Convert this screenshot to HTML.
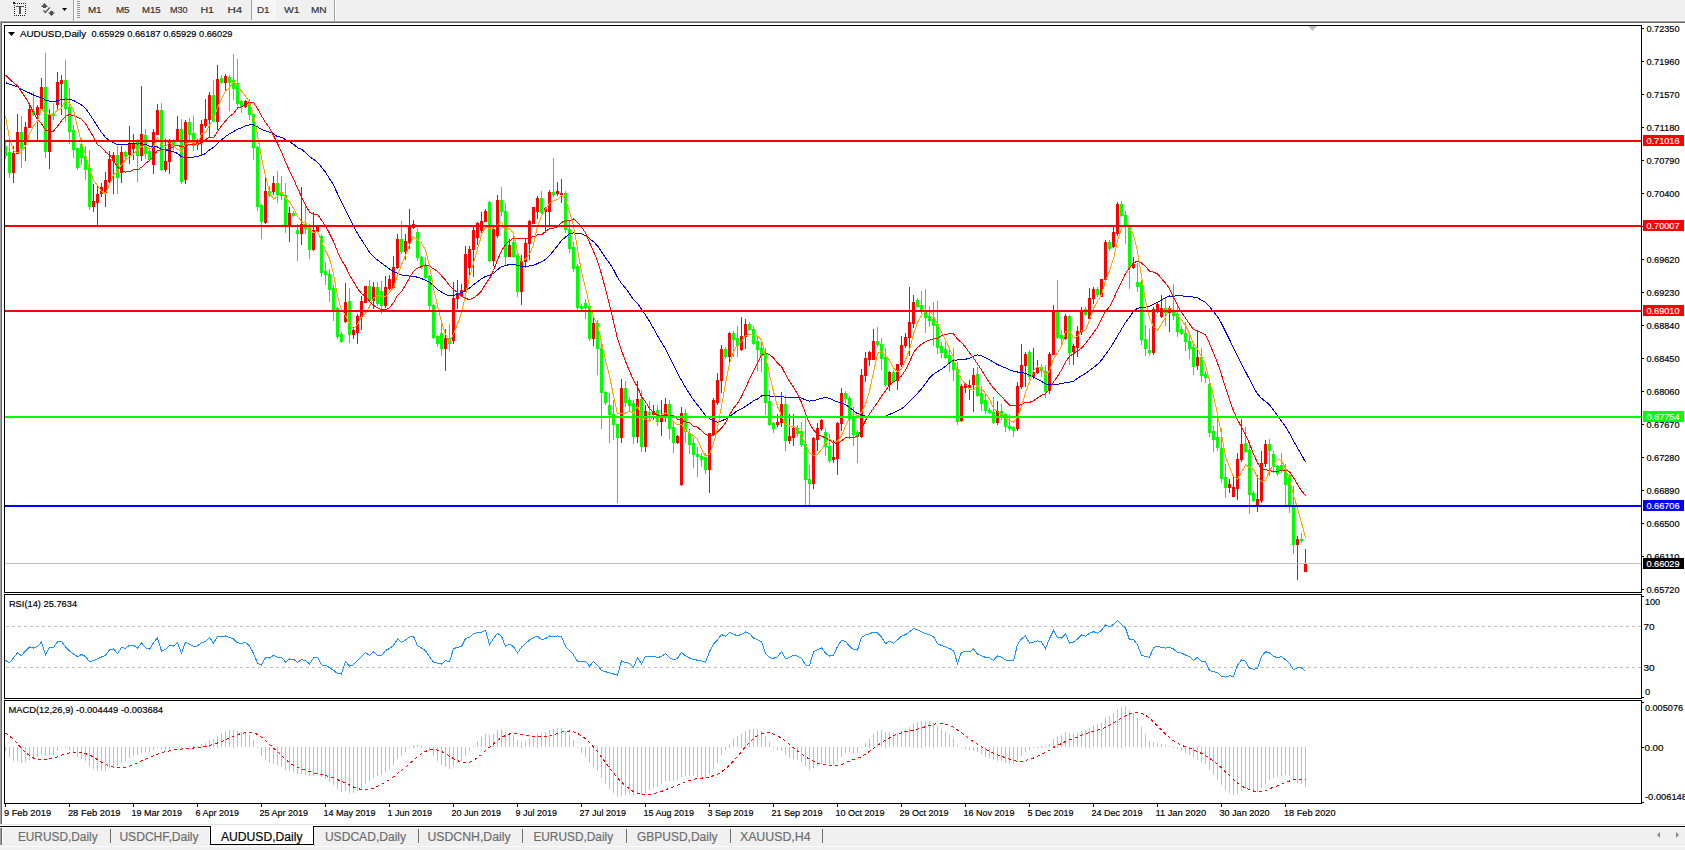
<!DOCTYPE html><html><head><meta charset="utf-8"><style>
html,body{margin:0;padding:0;}body{width:1685px;height:850px;overflow:hidden;background:#f0f0f0;position:relative;font-family:"Liberation Sans", sans-serif;}
svg{position:absolute;left:0;top:0;}
</style></head><body>
<svg width="1685" height="850" viewBox="0 0 1685 850" shape-rendering="crispEdges" font-family='"Liberation Sans", sans-serif'>
<rect x="0" y="0" width="1685" height="850" fill="#f0f0f0"/>
<rect x="0" y="21" width="1685" height="805" fill="#ffffff"/>
<rect x="0" y="20" width="1685" height="1" fill="#f8f8f8"/>
<rect x="0" y="21" width="1685" height="1" fill="#a0a0a0"/>
<rect x="0" y="22" width="1685" height="1" fill="#696969"/>
<rect x="0" y="21" width="1" height="803" fill="#a0a0a0"/>
<rect x="1" y="22" width="1" height="802" fill="#696969"/>
<rect x="17" y="3" width="1" height="1" fill="#222"/><rect x="19" y="3" width="1" height="1" fill="#222"/><rect x="21" y="3" width="1" height="1" fill="#222"/><rect x="23" y="3" width="1" height="1" fill="#222"/><rect x="25" y="3" width="1" height="1" fill="#222"/><rect x="14" y="5" width="1" height="1" fill="#222"/><rect x="14" y="7" width="1" height="1" fill="#222"/><rect x="14" y="9" width="1" height="1" fill="#222"/><rect x="14" y="11" width="1" height="1" fill="#222"/><rect x="14" y="13" width="1" height="1" fill="#222"/><rect x="14" y="15" width="1" height="1" fill="#222"/><rect x="16" y="15" width="1" height="1" fill="#222"/><rect x="18" y="15" width="1" height="1" fill="#222"/><rect x="20" y="15" width="1" height="1" fill="#222"/><rect x="22" y="15" width="1" height="1" fill="#222"/><rect x="24" y="15" width="1" height="1" fill="#222"/><rect x="25" y="5" width="1" height="1" fill="#222"/><rect x="25" y="7" width="1" height="1" fill="#222"/><rect x="25" y="9" width="1" height="1" fill="#222"/><rect x="25" y="11" width="1" height="1" fill="#222"/><rect x="25" y="13" width="1" height="1" fill="#222"/>
<rect x="13" y="2" width="2" height="2" fill="#222"/><rect x="15" y="3" width="1" height="1" fill="#555"/>
<rect x="16" y="6" width="8" height="1" fill="#505050"/><rect x="16" y="7" width="8" height="0.4" fill="#505050"/><rect x="19" y="7" width="2" height="7" fill="#505050"/>
<path d="M41 7 L44.5 3 L48 7 Z" fill="#505050" shape-rendering="auto"/><rect x="43" y="6.5" width="3" height="1.3" fill="#505050"/>
<path d="M48 12.4 L51.5 16 L55 12.4 Z" fill="#505050" shape-rendering="auto"/><rect x="50" y="11" width="3" height="1.6" fill="#505050"/>
<path d="M43.3 10.3 L45.4 12.5 L49.8 7.3" fill="none" stroke="#505050" stroke-width="1.2" shape-rendering="auto"/>
<path d="M62 8 L67 8 L64.5 11 Z" fill="#000" shape-rendering="auto"/>
<rect x="73" y="0" width="1" height="21" fill="#a0a0a0"/><rect x="74" y="0" width="1" height="20" fill="#ffffff"/>
<rect x="77" y="1" width="3" height="1" fill="#999"/>
<rect x="77" y="3" width="3" height="1" fill="#999"/>
<rect x="77" y="5" width="3" height="1" fill="#999"/>
<rect x="77" y="7" width="3" height="1" fill="#999"/>
<rect x="77" y="9" width="3" height="1" fill="#999"/>
<rect x="77" y="11" width="3" height="1" fill="#999"/>
<rect x="77" y="13" width="3" height="1" fill="#999"/>
<rect x="77" y="15" width="3" height="1" fill="#999"/>
<rect x="77" y="17" width="3" height="1" fill="#999"/>
<rect x="251" y="0" width="1" height="20" fill="#a0a0a0"/><rect x="252" y="0" width="24" height="20" fill="#f6f6f6"/>
<text x="87.90" y="13.00" font-size="9.5px" fill="#333" textLength="13.70" lengthAdjust="spacingAndGlyphs" stroke="#333" stroke-width="0.18">M1</text>
<text x="115.90" y="13.00" font-size="9.5px" fill="#333" textLength="13.70" lengthAdjust="spacingAndGlyphs" stroke="#333" stroke-width="0.18">M5</text>
<text x="141.90" y="13.00" font-size="9.5px" fill="#333" textLength="18.70" lengthAdjust="spacingAndGlyphs" stroke="#333" stroke-width="0.18">M15</text>
<text x="169.90" y="13.00" font-size="9.5px" fill="#333" textLength="17.70" lengthAdjust="spacingAndGlyphs" stroke="#333" stroke-width="0.18">M30</text>
<text x="200.40" y="13.00" font-size="9.5px" fill="#333" textLength="13.70" lengthAdjust="spacingAndGlyphs" stroke="#333" stroke-width="0.18">H1</text>
<text x="227.40" y="13.00" font-size="9.5px" fill="#333" textLength="14.70" lengthAdjust="spacingAndGlyphs" stroke="#333" stroke-width="0.18">H4</text>
<text x="256.90" y="13.00" font-size="9.5px" fill="#333" textLength="12.70" lengthAdjust="spacingAndGlyphs" stroke="#333" stroke-width="0.18">D1</text>
<text x="283.90" y="13.00" font-size="9.5px" fill="#333" textLength="15.70" lengthAdjust="spacingAndGlyphs" stroke="#333" stroke-width="0.18">W1</text>
<text x="310.90" y="13.00" font-size="9.5px" fill="#333" textLength="15.70" lengthAdjust="spacingAndGlyphs" stroke="#333" stroke-width="0.18">MN</text>
<rect x="334" y="0" width="1" height="21" fill="#a0a0a0"/><rect x="335" y="0" width="1" height="20" fill="#ffffff"/>
<rect x="4.5" y="25.5" width="1637" height="567" fill="#fff" stroke="#000" stroke-width="1"/>
<rect x="4.5" y="594.5" width="1637" height="104" fill="#fff" stroke="#000" stroke-width="1"/>
<rect x="4.5" y="700.5" width="1637" height="103" fill="#fff" stroke="#000" stroke-width="1"/>
<defs><clipPath id="cm"><rect x="5" y="26" width="1636" height="566"/></clipPath><clipPath id="cr"><rect x="5" y="595" width="1636" height="103"/></clipPath><clipPath id="cd"><rect x="5" y="701" width="1636" height="102"/></clipPath></defs>
<g clip-path="url(#cm)">
<rect x="5" y="140" width="1" height="19" fill="#00ff00"/>
<rect x="4" y="146" width="3" height="10" fill="#00ff00"/>
<rect x="9" y="136" width="1" height="42" fill="#00ff00"/>
<rect x="8" y="152" width="3" height="21" fill="#00ff00"/>
<rect x="13" y="146" width="1" height="37" fill="#ff0000"/>
<rect x="12" y="153" width="3" height="20" fill="#ff0000"/>
<rect x="17" y="114" width="1" height="40" fill="#ff0000"/>
<rect x="16" y="132" width="3" height="22" fill="#ff0000"/>
<rect x="21" y="116" width="1" height="52" fill="#00ff00"/>
<rect x="20" y="132" width="3" height="17" fill="#00ff00"/>
<rect x="25" y="122" width="1" height="39" fill="#ff0000"/>
<rect x="24" y="127" width="3" height="18" fill="#ff0000"/>
<rect x="29" y="103" width="1" height="25" fill="#ff0000"/>
<rect x="28" y="109" width="3" height="19" fill="#ff0000"/>
<rect x="33" y="92" width="1" height="24" fill="#00ff00"/>
<rect x="32" y="111" width="3" height="4" fill="#00ff00"/>
<rect x="37" y="105" width="1" height="36" fill="#ff0000"/>
<rect x="36" y="107" width="3" height="8" fill="#ff0000"/>
<rect x="41" y="78" width="1" height="31" fill="#ff0000"/>
<rect x="40" y="87" width="3" height="22" fill="#ff0000"/>
<rect x="45" y="53" width="1" height="105" fill="#00ff00"/>
<rect x="44" y="87" width="3" height="65" fill="#00ff00"/>
<rect x="49" y="109" width="1" height="60" fill="#ff0000"/>
<rect x="48" y="114" width="3" height="38" fill="#ff0000"/>
<rect x="53" y="103" width="1" height="17" fill="#00ff00"/>
<rect x="52" y="113" width="3" height="3" fill="#00ff00"/>
<rect x="57" y="72" width="1" height="39" fill="#ff0000"/>
<rect x="56" y="82" width="3" height="23" fill="#ff0000"/>
<rect x="61" y="75" width="1" height="40" fill="#ff0000"/>
<rect x="60" y="80" width="3" height="4" fill="#ff0000"/>
<rect x="65" y="60" width="1" height="62" fill="#00ff00"/>
<rect x="64" y="80" width="3" height="29" fill="#00ff00"/>
<rect x="69" y="88" width="1" height="56" fill="#00ff00"/>
<rect x="68" y="107" width="3" height="25" fill="#00ff00"/>
<rect x="73" y="125" width="1" height="33" fill="#00ff00"/>
<rect x="72" y="130" width="3" height="20" fill="#00ff00"/>
<rect x="77" y="148" width="1" height="22" fill="#00ff00"/>
<rect x="76" y="148" width="3" height="20" fill="#00ff00"/>
<rect x="81" y="138" width="1" height="27" fill="#00ff00"/>
<rect x="80" y="144" width="3" height="14" fill="#00ff00"/>
<rect x="85" y="146" width="1" height="34" fill="#00ff00"/>
<rect x="84" y="156" width="3" height="14" fill="#00ff00"/>
<rect x="89" y="150" width="1" height="60" fill="#00ff00"/>
<rect x="88" y="168" width="3" height="39" fill="#00ff00"/>
<rect x="93" y="184" width="1" height="28" fill="#ff0000"/>
<rect x="92" y="201" width="3" height="6" fill="#ff0000"/>
<rect x="97" y="186" width="1" height="41" fill="#ff0000"/>
<rect x="96" y="194" width="3" height="9" fill="#ff0000"/>
<rect x="101" y="183" width="1" height="14" fill="#ff0000"/>
<rect x="100" y="187" width="3" height="7" fill="#ff0000"/>
<rect x="105" y="172" width="1" height="35" fill="#ff0000"/>
<rect x="104" y="180" width="3" height="13" fill="#ff0000"/>
<rect x="109" y="151" width="1" height="33" fill="#ff0000"/>
<rect x="108" y="159" width="3" height="23" fill="#ff0000"/>
<rect x="113" y="152" width="1" height="42" fill="#ff0000"/>
<rect x="112" y="155" width="3" height="6" fill="#ff0000"/>
<rect x="117" y="146" width="1" height="48" fill="#00ff00"/>
<rect x="116" y="155" width="3" height="23" fill="#00ff00"/>
<rect x="121" y="146" width="1" height="37" fill="#ff0000"/>
<rect x="120" y="152" width="3" height="21" fill="#ff0000"/>
<rect x="125" y="151" width="1" height="8" fill="#00ff00"/>
<rect x="124" y="152" width="3" height="5" fill="#00ff00"/>
<rect x="129" y="126" width="1" height="38" fill="#ff0000"/>
<rect x="128" y="143" width="3" height="12" fill="#ff0000"/>
<rect x="133" y="134" width="1" height="26" fill="#ff0000"/>
<rect x="132" y="143" width="3" height="6" fill="#ff0000"/>
<rect x="137" y="139" width="1" height="43" fill="#00ff00"/>
<rect x="136" y="142" width="3" height="14" fill="#00ff00"/>
<rect x="141" y="86" width="1" height="75" fill="#ff0000"/>
<rect x="140" y="134" width="3" height="22" fill="#ff0000"/>
<rect x="145" y="129" width="1" height="30" fill="#00ff00"/>
<rect x="144" y="135" width="3" height="19" fill="#00ff00"/>
<rect x="149" y="148" width="1" height="13" fill="#00ff00"/>
<rect x="148" y="151" width="3" height="9" fill="#00ff00"/>
<rect x="153" y="129" width="1" height="45" fill="#ff0000"/>
<rect x="152" y="132" width="3" height="33" fill="#ff0000"/>
<rect x="157" y="104" width="1" height="31" fill="#ff0000"/>
<rect x="156" y="110" width="3" height="25" fill="#ff0000"/>
<rect x="161" y="103" width="1" height="68" fill="#00ff00"/>
<rect x="160" y="110" width="3" height="60" fill="#00ff00"/>
<rect x="165" y="139" width="1" height="33" fill="#ff0000"/>
<rect x="164" y="161" width="3" height="9" fill="#ff0000"/>
<rect x="169" y="139" width="1" height="35" fill="#ff0000"/>
<rect x="168" y="142" width="3" height="20" fill="#ff0000"/>
<rect x="173" y="139" width="1" height="11" fill="#00ff00"/>
<rect x="172" y="141" width="3" height="5" fill="#00ff00"/>
<rect x="177" y="116" width="1" height="26" fill="#ff0000"/>
<rect x="176" y="129" width="3" height="11" fill="#ff0000"/>
<rect x="181" y="119" width="1" height="65" fill="#00ff00"/>
<rect x="180" y="129" width="3" height="53" fill="#00ff00"/>
<rect x="185" y="120" width="1" height="64" fill="#ff0000"/>
<rect x="184" y="122" width="3" height="58" fill="#ff0000"/>
<rect x="189" y="118" width="1" height="23" fill="#00ff00"/>
<rect x="188" y="122" width="3" height="13" fill="#00ff00"/>
<rect x="193" y="116" width="1" height="35" fill="#00ff00"/>
<rect x="192" y="133" width="3" height="13" fill="#00ff00"/>
<rect x="197" y="139" width="1" height="11" fill="#ff0000"/>
<rect x="196" y="142" width="3" height="3" fill="#ff0000"/>
<rect x="201" y="120" width="1" height="35" fill="#ff0000"/>
<rect x="200" y="124" width="3" height="19" fill="#ff0000"/>
<rect x="205" y="99" width="1" height="29" fill="#ff0000"/>
<rect x="204" y="119" width="3" height="7" fill="#ff0000"/>
<rect x="209" y="92" width="1" height="46" fill="#ff0000"/>
<rect x="208" y="95" width="3" height="25" fill="#ff0000"/>
<rect x="213" y="80" width="1" height="42" fill="#00ff00"/>
<rect x="212" y="95" width="3" height="27" fill="#00ff00"/>
<rect x="217" y="65" width="1" height="65" fill="#ff0000"/>
<rect x="216" y="79" width="3" height="43" fill="#ff0000"/>
<rect x="221" y="75" width="1" height="9" fill="#00ff00"/>
<rect x="220" y="78" width="3" height="5" fill="#00ff00"/>
<rect x="225" y="74" width="1" height="17" fill="#ff0000"/>
<rect x="224" y="76" width="3" height="7" fill="#ff0000"/>
<rect x="229" y="75" width="1" height="36" fill="#00ff00"/>
<rect x="228" y="77" width="3" height="6" fill="#00ff00"/>
<rect x="233" y="54" width="1" height="46" fill="#00ff00"/>
<rect x="232" y="80" width="3" height="9" fill="#00ff00"/>
<rect x="237" y="59" width="1" height="47" fill="#00ff00"/>
<rect x="236" y="83" width="3" height="21" fill="#00ff00"/>
<rect x="241" y="100" width="1" height="13" fill="#00ff00"/>
<rect x="240" y="101" width="3" height="6" fill="#00ff00"/>
<rect x="245" y="100" width="1" height="8" fill="#ff0000"/>
<rect x="244" y="101" width="3" height="6" fill="#ff0000"/>
<rect x="249" y="99" width="1" height="21" fill="#00ff00"/>
<rect x="248" y="103" width="3" height="12" fill="#00ff00"/>
<rect x="253" y="113" width="1" height="47" fill="#00ff00"/>
<rect x="252" y="114" width="3" height="34" fill="#00ff00"/>
<rect x="257" y="146" width="1" height="65" fill="#00ff00"/>
<rect x="256" y="147" width="3" height="60" fill="#00ff00"/>
<rect x="261" y="204" width="1" height="35" fill="#00ff00"/>
<rect x="260" y="205" width="3" height="17" fill="#00ff00"/>
<rect x="265" y="178" width="1" height="46" fill="#ff0000"/>
<rect x="264" y="191" width="3" height="32" fill="#ff0000"/>
<rect x="269" y="186" width="1" height="11" fill="#00ff00"/>
<rect x="268" y="191" width="3" height="5" fill="#00ff00"/>
<rect x="273" y="176" width="1" height="19" fill="#ff0000"/>
<rect x="272" y="183" width="3" height="9" fill="#ff0000"/>
<rect x="277" y="171" width="1" height="32" fill="#00ff00"/>
<rect x="276" y="183" width="3" height="12" fill="#00ff00"/>
<rect x="281" y="176" width="1" height="24" fill="#00ff00"/>
<rect x="280" y="192" width="3" height="4" fill="#00ff00"/>
<rect x="285" y="183" width="1" height="50" fill="#00ff00"/>
<rect x="284" y="195" width="3" height="30" fill="#00ff00"/>
<rect x="289" y="207" width="1" height="35" fill="#ff0000"/>
<rect x="288" y="213" width="3" height="12" fill="#ff0000"/>
<rect x="293" y="211" width="1" height="6" fill="#00ff00"/>
<rect x="292" y="213" width="3" height="3" fill="#00ff00"/>
<rect x="297" y="224" width="1" height="37" fill="#00ff00"/>
<rect x="296" y="230" width="3" height="4" fill="#00ff00"/>
<rect x="301" y="187" width="1" height="58" fill="#ff0000"/>
<rect x="300" y="224" width="3" height="10" fill="#ff0000"/>
<rect x="305" y="205" width="1" height="29" fill="#00ff00"/>
<rect x="304" y="224" width="3" height="5" fill="#00ff00"/>
<rect x="309" y="224" width="1" height="35" fill="#00ff00"/>
<rect x="308" y="227" width="3" height="23" fill="#00ff00"/>
<rect x="313" y="212" width="1" height="39" fill="#ff0000"/>
<rect x="312" y="230" width="3" height="20" fill="#ff0000"/>
<rect x="317" y="226" width="1" height="7" fill="#ff0000"/>
<rect x="316" y="227" width="3" height="5" fill="#ff0000"/>
<rect x="321" y="234" width="1" height="43" fill="#00ff00"/>
<rect x="320" y="236" width="3" height="37" fill="#00ff00"/>
<rect x="325" y="262" width="1" height="23" fill="#00ff00"/>
<rect x="324" y="271" width="3" height="4" fill="#00ff00"/>
<rect x="329" y="269" width="1" height="33" fill="#00ff00"/>
<rect x="328" y="274" width="3" height="16" fill="#00ff00"/>
<rect x="333" y="284" width="1" height="37" fill="#00ff00"/>
<rect x="332" y="288" width="3" height="22" fill="#00ff00"/>
<rect x="337" y="307" width="1" height="32" fill="#00ff00"/>
<rect x="336" y="308" width="3" height="29" fill="#00ff00"/>
<rect x="341" y="332" width="1" height="11" fill="#00ff00"/>
<rect x="340" y="334" width="3" height="8" fill="#00ff00"/>
<rect x="345" y="283" width="1" height="40" fill="#ff0000"/>
<rect x="344" y="302" width="3" height="20" fill="#ff0000"/>
<rect x="349" y="288" width="1" height="55" fill="#00ff00"/>
<rect x="348" y="301" width="3" height="34" fill="#00ff00"/>
<rect x="353" y="327" width="1" height="12" fill="#ff0000"/>
<rect x="352" y="330" width="3" height="5" fill="#ff0000"/>
<rect x="357" y="314" width="1" height="30" fill="#ff0000"/>
<rect x="356" y="316" width="3" height="17" fill="#ff0000"/>
<rect x="361" y="296" width="1" height="34" fill="#ff0000"/>
<rect x="360" y="301" width="3" height="16" fill="#ff0000"/>
<rect x="365" y="286" width="1" height="17" fill="#ff0000"/>
<rect x="364" y="286" width="3" height="17" fill="#ff0000"/>
<rect x="369" y="280" width="1" height="22" fill="#00ff00"/>
<rect x="368" y="286" width="3" height="15" fill="#00ff00"/>
<rect x="373" y="282" width="1" height="27" fill="#ff0000"/>
<rect x="372" y="287" width="3" height="14" fill="#ff0000"/>
<rect x="377" y="282" width="1" height="24" fill="#00ff00"/>
<rect x="376" y="287" width="3" height="17" fill="#00ff00"/>
<rect x="381" y="281" width="1" height="33" fill="#00ff00"/>
<rect x="380" y="291" width="3" height="15" fill="#00ff00"/>
<rect x="385" y="276" width="1" height="32" fill="#ff0000"/>
<rect x="384" y="287" width="3" height="19" fill="#ff0000"/>
<rect x="389" y="275" width="1" height="15" fill="#ff0000"/>
<rect x="388" y="279" width="3" height="10" fill="#ff0000"/>
<rect x="393" y="256" width="1" height="33" fill="#ff0000"/>
<rect x="392" y="267" width="3" height="21" fill="#ff0000"/>
<rect x="397" y="234" width="1" height="35" fill="#ff0000"/>
<rect x="396" y="239" width="3" height="29" fill="#ff0000"/>
<rect x="401" y="221" width="1" height="33" fill="#00ff00"/>
<rect x="400" y="239" width="3" height="13" fill="#00ff00"/>
<rect x="405" y="234" width="1" height="26" fill="#ff0000"/>
<rect x="404" y="241" width="3" height="11" fill="#ff0000"/>
<rect x="409" y="209" width="1" height="40" fill="#ff0000"/>
<rect x="408" y="227" width="3" height="16" fill="#ff0000"/>
<rect x="413" y="220" width="1" height="9" fill="#ff0000"/>
<rect x="412" y="224" width="3" height="4" fill="#ff0000"/>
<rect x="417" y="228" width="1" height="33" fill="#00ff00"/>
<rect x="416" y="232" width="3" height="26" fill="#00ff00"/>
<rect x="421" y="256" width="1" height="13" fill="#00ff00"/>
<rect x="420" y="257" width="3" height="10" fill="#00ff00"/>
<rect x="425" y="257" width="1" height="22" fill="#00ff00"/>
<rect x="424" y="265" width="3" height="13" fill="#00ff00"/>
<rect x="429" y="275" width="1" height="36" fill="#00ff00"/>
<rect x="428" y="276" width="3" height="30" fill="#00ff00"/>
<rect x="433" y="304" width="1" height="35" fill="#00ff00"/>
<rect x="432" y="305" width="3" height="33" fill="#00ff00"/>
<rect x="437" y="335" width="1" height="12" fill="#00ff00"/>
<rect x="436" y="336" width="3" height="8" fill="#00ff00"/>
<rect x="441" y="324" width="1" height="32" fill="#00ff00"/>
<rect x="440" y="333" width="3" height="16" fill="#00ff00"/>
<rect x="445" y="329" width="1" height="42" fill="#ff0000"/>
<rect x="444" y="338" width="3" height="11" fill="#ff0000"/>
<rect x="449" y="324" width="1" height="27" fill="#00ff00"/>
<rect x="448" y="338" width="3" height="6" fill="#00ff00"/>
<rect x="453" y="282" width="1" height="62" fill="#ff0000"/>
<rect x="452" y="298" width="3" height="43" fill="#ff0000"/>
<rect x="457" y="280" width="1" height="29" fill="#ff0000"/>
<rect x="456" y="293" width="3" height="6" fill="#ff0000"/>
<rect x="461" y="284" width="1" height="13" fill="#ff0000"/>
<rect x="460" y="290" width="3" height="6" fill="#ff0000"/>
<rect x="465" y="246" width="1" height="46" fill="#ff0000"/>
<rect x="464" y="254" width="3" height="37" fill="#ff0000"/>
<rect x="469" y="246" width="1" height="29" fill="#ff0000"/>
<rect x="468" y="249" width="3" height="19" fill="#ff0000"/>
<rect x="473" y="227" width="1" height="50" fill="#ff0000"/>
<rect x="472" y="230" width="3" height="20" fill="#ff0000"/>
<rect x="477" y="222" width="1" height="23" fill="#ff0000"/>
<rect x="476" y="223" width="3" height="15" fill="#ff0000"/>
<rect x="481" y="212" width="1" height="21" fill="#ff0000"/>
<rect x="480" y="221" width="3" height="10" fill="#ff0000"/>
<rect x="485" y="209" width="1" height="13" fill="#ff0000"/>
<rect x="484" y="211" width="3" height="11" fill="#ff0000"/>
<rect x="489" y="201" width="1" height="61" fill="#00ff00"/>
<rect x="488" y="202" width="3" height="59" fill="#00ff00"/>
<rect x="493" y="227" width="1" height="39" fill="#ff0000"/>
<rect x="492" y="229" width="3" height="32" fill="#ff0000"/>
<rect x="497" y="195" width="1" height="43" fill="#ff0000"/>
<rect x="496" y="200" width="3" height="36" fill="#ff0000"/>
<rect x="501" y="187" width="1" height="29" fill="#00ff00"/>
<rect x="500" y="200" width="3" height="12" fill="#00ff00"/>
<rect x="505" y="203" width="1" height="63" fill="#00ff00"/>
<rect x="504" y="211" width="3" height="46" fill="#00ff00"/>
<rect x="509" y="239" width="1" height="18" fill="#ff0000"/>
<rect x="508" y="245" width="3" height="12" fill="#ff0000"/>
<rect x="513" y="236" width="1" height="22" fill="#00ff00"/>
<rect x="512" y="242" width="3" height="15" fill="#00ff00"/>
<rect x="517" y="254" width="1" height="43" fill="#00ff00"/>
<rect x="516" y="255" width="3" height="37" fill="#00ff00"/>
<rect x="521" y="255" width="1" height="50" fill="#ff0000"/>
<rect x="520" y="261" width="3" height="31" fill="#ff0000"/>
<rect x="525" y="238" width="1" height="30" fill="#ff0000"/>
<rect x="524" y="243" width="3" height="19" fill="#ff0000"/>
<rect x="529" y="220" width="1" height="40" fill="#ff0000"/>
<rect x="528" y="221" width="3" height="23" fill="#ff0000"/>
<rect x="533" y="207" width="1" height="17" fill="#ff0000"/>
<rect x="532" y="207" width="3" height="17" fill="#ff0000"/>
<rect x="537" y="196" width="1" height="23" fill="#ff0000"/>
<rect x="536" y="198" width="3" height="14" fill="#ff0000"/>
<rect x="541" y="191" width="1" height="23" fill="#00ff00"/>
<rect x="540" y="198" width="3" height="15" fill="#00ff00"/>
<rect x="545" y="207" width="1" height="26" fill="#ff0000"/>
<rect x="544" y="208" width="3" height="4" fill="#ff0000"/>
<rect x="549" y="190" width="1" height="35" fill="#ff0000"/>
<rect x="548" y="192" width="3" height="20" fill="#ff0000"/>
<rect x="553" y="158" width="1" height="39" fill="#00ff00"/>
<rect x="552" y="192" width="3" height="3" fill="#00ff00"/>
<rect x="557" y="182" width="1" height="14" fill="#ff0000"/>
<rect x="556" y="191" width="3" height="3" fill="#ff0000"/>
<rect x="561" y="179" width="1" height="24" fill="#ff0000"/>
<rect x="560" y="193" width="3" height="2" fill="#ff0000"/>
<rect x="565" y="191" width="1" height="42" fill="#00ff00"/>
<rect x="564" y="193" width="3" height="37" fill="#00ff00"/>
<rect x="569" y="221" width="1" height="32" fill="#00ff00"/>
<rect x="568" y="229" width="3" height="20" fill="#00ff00"/>
<rect x="573" y="242" width="1" height="30" fill="#00ff00"/>
<rect x="572" y="247" width="3" height="22" fill="#00ff00"/>
<rect x="577" y="264" width="1" height="47" fill="#00ff00"/>
<rect x="576" y="266" width="3" height="42" fill="#00ff00"/>
<rect x="581" y="304" width="1" height="7" fill="#00ff00"/>
<rect x="580" y="306" width="3" height="3" fill="#00ff00"/>
<rect x="585" y="299" width="1" height="20" fill="#00ff00"/>
<rect x="584" y="303" width="3" height="5" fill="#00ff00"/>
<rect x="589" y="306" width="1" height="35" fill="#00ff00"/>
<rect x="588" y="306" width="3" height="33" fill="#00ff00"/>
<rect x="593" y="318" width="1" height="28" fill="#ff0000"/>
<rect x="592" y="323" width="3" height="16" fill="#ff0000"/>
<rect x="597" y="320" width="1" height="55" fill="#00ff00"/>
<rect x="596" y="323" width="3" height="26" fill="#00ff00"/>
<rect x="601" y="344" width="1" height="85" fill="#00ff00"/>
<rect x="600" y="348" width="3" height="45" fill="#00ff00"/>
<rect x="605" y="391" width="1" height="14" fill="#00ff00"/>
<rect x="604" y="392" width="3" height="11" fill="#00ff00"/>
<rect x="609" y="393" width="1" height="50" fill="#00ff00"/>
<rect x="608" y="405" width="3" height="10" fill="#00ff00"/>
<rect x="613" y="400" width="1" height="40" fill="#00ff00"/>
<rect x="612" y="414" width="3" height="11" fill="#00ff00"/>
<rect x="617" y="424" width="1" height="79" fill="#00ff00"/>
<rect x="616" y="424" width="3" height="14" fill="#00ff00"/>
<rect x="621" y="379" width="1" height="64" fill="#ff0000"/>
<rect x="620" y="388" width="3" height="50" fill="#ff0000"/>
<rect x="625" y="381" width="1" height="26" fill="#00ff00"/>
<rect x="624" y="388" width="3" height="15" fill="#00ff00"/>
<rect x="629" y="397" width="1" height="14" fill="#00ff00"/>
<rect x="628" y="400" width="3" height="6" fill="#00ff00"/>
<rect x="633" y="400" width="1" height="44" fill="#00ff00"/>
<rect x="632" y="403" width="3" height="34" fill="#00ff00"/>
<rect x="637" y="381" width="1" height="62" fill="#ff0000"/>
<rect x="636" y="399" width="3" height="38" fill="#ff0000"/>
<rect x="641" y="390" width="1" height="62" fill="#00ff00"/>
<rect x="640" y="399" width="3" height="48" fill="#00ff00"/>
<rect x="645" y="405" width="1" height="47" fill="#ff0000"/>
<rect x="644" y="411" width="3" height="36" fill="#ff0000"/>
<rect x="649" y="401" width="1" height="21" fill="#00ff00"/>
<rect x="648" y="412" width="3" height="3" fill="#00ff00"/>
<rect x="653" y="405" width="1" height="15" fill="#ff0000"/>
<rect x="652" y="411" width="3" height="4" fill="#ff0000"/>
<rect x="657" y="405" width="1" height="21" fill="#00ff00"/>
<rect x="656" y="410" width="3" height="12" fill="#00ff00"/>
<rect x="661" y="400" width="1" height="36" fill="#ff0000"/>
<rect x="660" y="415" width="3" height="7" fill="#ff0000"/>
<rect x="665" y="398" width="1" height="24" fill="#ff0000"/>
<rect x="664" y="404" width="3" height="12" fill="#ff0000"/>
<rect x="669" y="400" width="1" height="39" fill="#00ff00"/>
<rect x="668" y="404" width="3" height="25" fill="#00ff00"/>
<rect x="673" y="422" width="1" height="31" fill="#00ff00"/>
<rect x="672" y="427" width="3" height="16" fill="#00ff00"/>
<rect x="677" y="435" width="1" height="9" fill="#ff0000"/>
<rect x="676" y="436" width="3" height="7" fill="#ff0000"/>
<rect x="681" y="407" width="1" height="79" fill="#ff0000"/>
<rect x="680" y="413" width="3" height="72" fill="#ff0000"/>
<rect x="685" y="409" width="1" height="34" fill="#00ff00"/>
<rect x="684" y="413" width="3" height="19" fill="#00ff00"/>
<rect x="689" y="429" width="1" height="25" fill="#00ff00"/>
<rect x="688" y="433" width="3" height="12" fill="#00ff00"/>
<rect x="693" y="437" width="1" height="31" fill="#00ff00"/>
<rect x="692" y="443" width="3" height="12" fill="#00ff00"/>
<rect x="697" y="447" width="1" height="30" fill="#00ff00"/>
<rect x="696" y="454" width="3" height="3" fill="#00ff00"/>
<rect x="701" y="453" width="1" height="14" fill="#00ff00"/>
<rect x="700" y="456" width="3" height="4" fill="#00ff00"/>
<rect x="705" y="453" width="1" height="21" fill="#00ff00"/>
<rect x="704" y="457" width="3" height="13" fill="#00ff00"/>
<rect x="709" y="433" width="1" height="60" fill="#ff0000"/>
<rect x="708" y="433" width="3" height="37" fill="#ff0000"/>
<rect x="713" y="398" width="1" height="38" fill="#ff0000"/>
<rect x="712" y="400" width="3" height="35" fill="#ff0000"/>
<rect x="717" y="373" width="1" height="32" fill="#ff0000"/>
<rect x="716" y="380" width="3" height="23" fill="#ff0000"/>
<rect x="721" y="345" width="1" height="48" fill="#ff0000"/>
<rect x="720" y="349" width="3" height="32" fill="#ff0000"/>
<rect x="725" y="347" width="1" height="12" fill="#00ff00"/>
<rect x="724" y="349" width="3" height="8" fill="#00ff00"/>
<rect x="729" y="332" width="1" height="31" fill="#ff0000"/>
<rect x="728" y="333" width="3" height="24" fill="#ff0000"/>
<rect x="733" y="331" width="1" height="26" fill="#00ff00"/>
<rect x="732" y="333" width="3" height="7" fill="#00ff00"/>
<rect x="737" y="326" width="1" height="31" fill="#00ff00"/>
<rect x="736" y="338" width="3" height="8" fill="#00ff00"/>
<rect x="741" y="317" width="1" height="34" fill="#ff0000"/>
<rect x="740" y="336" width="3" height="14" fill="#ff0000"/>
<rect x="745" y="319" width="1" height="30" fill="#ff0000"/>
<rect x="744" y="324" width="3" height="13" fill="#ff0000"/>
<rect x="749" y="322" width="1" height="9" fill="#00ff00"/>
<rect x="748" y="324" width="3" height="6" fill="#00ff00"/>
<rect x="753" y="326" width="1" height="19" fill="#00ff00"/>
<rect x="752" y="329" width="3" height="15" fill="#00ff00"/>
<rect x="757" y="337" width="1" height="34" fill="#00ff00"/>
<rect x="756" y="341" width="3" height="9" fill="#00ff00"/>
<rect x="761" y="340" width="1" height="32" fill="#00ff00"/>
<rect x="760" y="348" width="3" height="8" fill="#00ff00"/>
<rect x="765" y="348" width="1" height="67" fill="#00ff00"/>
<rect x="764" y="354" width="3" height="49" fill="#00ff00"/>
<rect x="769" y="390" width="1" height="36" fill="#00ff00"/>
<rect x="768" y="401" width="3" height="24" fill="#00ff00"/>
<rect x="773" y="422" width="1" height="11" fill="#00ff00"/>
<rect x="772" y="423" width="3" height="6" fill="#00ff00"/>
<rect x="777" y="414" width="1" height="13" fill="#ff0000"/>
<rect x="776" y="422" width="3" height="3" fill="#ff0000"/>
<rect x="781" y="392" width="1" height="35" fill="#ff0000"/>
<rect x="780" y="404" width="3" height="19" fill="#ff0000"/>
<rect x="785" y="395" width="1" height="56" fill="#00ff00"/>
<rect x="784" y="404" width="3" height="37" fill="#00ff00"/>
<rect x="789" y="414" width="1" height="30" fill="#ff0000"/>
<rect x="788" y="436" width="3" height="5" fill="#ff0000"/>
<rect x="793" y="414" width="1" height="32" fill="#ff0000"/>
<rect x="792" y="428" width="3" height="10" fill="#ff0000"/>
<rect x="797" y="425" width="1" height="12" fill="#00ff00"/>
<rect x="796" y="428" width="3" height="6" fill="#00ff00"/>
<rect x="801" y="422" width="1" height="25" fill="#00ff00"/>
<rect x="800" y="431" width="3" height="14" fill="#00ff00"/>
<rect x="805" y="417" width="1" height="89" fill="#00ff00"/>
<rect x="804" y="444" width="3" height="36" fill="#00ff00"/>
<rect x="809" y="465" width="1" height="41" fill="#00ff00"/>
<rect x="808" y="479" width="3" height="5" fill="#00ff00"/>
<rect x="813" y="437" width="1" height="52" fill="#ff0000"/>
<rect x="812" y="438" width="3" height="46" fill="#ff0000"/>
<rect x="817" y="423" width="1" height="28" fill="#ff0000"/>
<rect x="816" y="428" width="3" height="12" fill="#ff0000"/>
<rect x="821" y="419" width="1" height="12" fill="#ff0000"/>
<rect x="820" y="420" width="3" height="9" fill="#ff0000"/>
<rect x="825" y="428" width="1" height="28" fill="#00ff00"/>
<rect x="824" y="432" width="3" height="15" fill="#00ff00"/>
<rect x="829" y="434" width="1" height="29" fill="#00ff00"/>
<rect x="828" y="446" width="3" height="15" fill="#00ff00"/>
<rect x="833" y="440" width="1" height="23" fill="#ff0000"/>
<rect x="832" y="457" width="3" height="3" fill="#ff0000"/>
<rect x="837" y="422" width="1" height="53" fill="#ff0000"/>
<rect x="836" y="423" width="3" height="36" fill="#ff0000"/>
<rect x="841" y="388" width="1" height="43" fill="#ff0000"/>
<rect x="840" y="393" width="3" height="31" fill="#ff0000"/>
<rect x="845" y="391" width="1" height="12" fill="#00ff00"/>
<rect x="844" y="393" width="3" height="6" fill="#00ff00"/>
<rect x="849" y="396" width="1" height="43" fill="#00ff00"/>
<rect x="848" y="398" width="3" height="21" fill="#00ff00"/>
<rect x="853" y="407" width="1" height="39" fill="#00ff00"/>
<rect x="852" y="418" width="3" height="17" fill="#00ff00"/>
<rect x="857" y="430" width="1" height="33" fill="#00ff00"/>
<rect x="856" y="432" width="3" height="5" fill="#00ff00"/>
<rect x="861" y="369" width="1" height="69" fill="#ff0000"/>
<rect x="860" y="375" width="3" height="62" fill="#ff0000"/>
<rect x="865" y="352" width="1" height="30" fill="#ff0000"/>
<rect x="864" y="358" width="3" height="18" fill="#ff0000"/>
<rect x="869" y="351" width="1" height="15" fill="#ff0000"/>
<rect x="868" y="352" width="3" height="8" fill="#ff0000"/>
<rect x="873" y="329" width="1" height="31" fill="#ff0000"/>
<rect x="872" y="341" width="3" height="19" fill="#ff0000"/>
<rect x="877" y="327" width="1" height="20" fill="#00ff00"/>
<rect x="876" y="341" width="3" height="4" fill="#00ff00"/>
<rect x="881" y="338" width="1" height="32" fill="#00ff00"/>
<rect x="880" y="344" width="3" height="15" fill="#00ff00"/>
<rect x="885" y="348" width="1" height="39" fill="#00ff00"/>
<rect x="884" y="357" width="3" height="28" fill="#00ff00"/>
<rect x="889" y="371" width="1" height="20" fill="#ff0000"/>
<rect x="888" y="372" width="3" height="13" fill="#ff0000"/>
<rect x="893" y="370" width="1" height="13" fill="#00ff00"/>
<rect x="892" y="372" width="3" height="10" fill="#00ff00"/>
<rect x="897" y="364" width="1" height="26" fill="#ff0000"/>
<rect x="896" y="364" width="3" height="17" fill="#ff0000"/>
<rect x="901" y="336" width="1" height="31" fill="#ff0000"/>
<rect x="900" y="345" width="3" height="20" fill="#ff0000"/>
<rect x="905" y="333" width="1" height="15" fill="#ff0000"/>
<rect x="904" y="337" width="3" height="9" fill="#ff0000"/>
<rect x="909" y="287" width="1" height="69" fill="#ff0000"/>
<rect x="908" y="322" width="3" height="16" fill="#ff0000"/>
<rect x="913" y="295" width="1" height="33" fill="#ff0000"/>
<rect x="912" y="302" width="3" height="22" fill="#ff0000"/>
<rect x="917" y="298" width="1" height="10" fill="#00ff00"/>
<rect x="916" y="300" width="3" height="7" fill="#00ff00"/>
<rect x="921" y="291" width="1" height="23" fill="#00ff00"/>
<rect x="920" y="305" width="3" height="7" fill="#00ff00"/>
<rect x="925" y="289" width="1" height="44" fill="#00ff00"/>
<rect x="924" y="311" width="3" height="7" fill="#00ff00"/>
<rect x="929" y="306" width="1" height="21" fill="#00ff00"/>
<rect x="928" y="316" width="3" height="5" fill="#00ff00"/>
<rect x="933" y="302" width="1" height="44" fill="#00ff00"/>
<rect x="932" y="319" width="3" height="7" fill="#00ff00"/>
<rect x="937" y="301" width="1" height="53" fill="#00ff00"/>
<rect x="936" y="324" width="3" height="24" fill="#00ff00"/>
<rect x="941" y="342" width="1" height="16" fill="#00ff00"/>
<rect x="940" y="346" width="3" height="7" fill="#00ff00"/>
<rect x="945" y="342" width="1" height="17" fill="#00ff00"/>
<rect x="944" y="349" width="3" height="9" fill="#00ff00"/>
<rect x="949" y="348" width="1" height="24" fill="#00ff00"/>
<rect x="948" y="355" width="3" height="8" fill="#00ff00"/>
<rect x="953" y="348" width="1" height="33" fill="#00ff00"/>
<rect x="952" y="361" width="3" height="9" fill="#00ff00"/>
<rect x="957" y="362" width="1" height="63" fill="#00ff00"/>
<rect x="956" y="369" width="3" height="53" fill="#00ff00"/>
<rect x="961" y="384" width="1" height="38" fill="#ff0000"/>
<rect x="960" y="386" width="3" height="35" fill="#ff0000"/>
<rect x="965" y="383" width="1" height="10" fill="#ff0000"/>
<rect x="964" y="384" width="3" height="4" fill="#ff0000"/>
<rect x="969" y="380" width="1" height="20" fill="#ff0000"/>
<rect x="968" y="385" width="3" height="3" fill="#ff0000"/>
<rect x="973" y="368" width="1" height="44" fill="#ff0000"/>
<rect x="972" y="375" width="3" height="10" fill="#ff0000"/>
<rect x="977" y="367" width="1" height="30" fill="#00ff00"/>
<rect x="976" y="374" width="3" height="22" fill="#00ff00"/>
<rect x="981" y="386" width="1" height="25" fill="#00ff00"/>
<rect x="980" y="393" width="3" height="11" fill="#00ff00"/>
<rect x="985" y="394" width="1" height="20" fill="#00ff00"/>
<rect x="984" y="400" width="3" height="11" fill="#00ff00"/>
<rect x="989" y="408" width="1" height="6" fill="#00ff00"/>
<rect x="988" y="410" width="3" height="3" fill="#00ff00"/>
<rect x="993" y="397" width="1" height="27" fill="#00ff00"/>
<rect x="992" y="412" width="3" height="11" fill="#00ff00"/>
<rect x="997" y="401" width="1" height="24" fill="#ff0000"/>
<rect x="996" y="411" width="3" height="12" fill="#ff0000"/>
<rect x="1001" y="404" width="1" height="16" fill="#00ff00"/>
<rect x="1000" y="411" width="3" height="5" fill="#00ff00"/>
<rect x="1005" y="413" width="1" height="19" fill="#00ff00"/>
<rect x="1004" y="414" width="3" height="13" fill="#00ff00"/>
<rect x="1009" y="414" width="1" height="17" fill="#00ff00"/>
<rect x="1008" y="426" width="3" height="3" fill="#00ff00"/>
<rect x="1013" y="426" width="1" height="11" fill="#00ff00"/>
<rect x="1012" y="427" width="3" height="4" fill="#00ff00"/>
<rect x="1017" y="382" width="1" height="49" fill="#ff0000"/>
<rect x="1016" y="386" width="3" height="43" fill="#ff0000"/>
<rect x="1021" y="344" width="1" height="45" fill="#ff0000"/>
<rect x="1020" y="365" width="3" height="22" fill="#ff0000"/>
<rect x="1025" y="352" width="1" height="35" fill="#ff0000"/>
<rect x="1024" y="354" width="3" height="12" fill="#ff0000"/>
<rect x="1029" y="350" width="1" height="30" fill="#00ff00"/>
<rect x="1028" y="352" width="3" height="25" fill="#00ff00"/>
<rect x="1033" y="348" width="1" height="31" fill="#ff0000"/>
<rect x="1032" y="372" width="3" height="5" fill="#ff0000"/>
<rect x="1037" y="360" width="1" height="14" fill="#ff0000"/>
<rect x="1036" y="367" width="3" height="6" fill="#ff0000"/>
<rect x="1041" y="364" width="1" height="13" fill="#00ff00"/>
<rect x="1040" y="367" width="3" height="4" fill="#00ff00"/>
<rect x="1045" y="365" width="1" height="33" fill="#00ff00"/>
<rect x="1044" y="371" width="3" height="21" fill="#00ff00"/>
<rect x="1049" y="352" width="1" height="42" fill="#ff0000"/>
<rect x="1048" y="354" width="3" height="37" fill="#ff0000"/>
<rect x="1053" y="305" width="1" height="50" fill="#ff0000"/>
<rect x="1052" y="312" width="3" height="43" fill="#ff0000"/>
<rect x="1057" y="280" width="1" height="59" fill="#00ff00"/>
<rect x="1056" y="312" width="3" height="26" fill="#00ff00"/>
<rect x="1061" y="330" width="1" height="15" fill="#00ff00"/>
<rect x="1060" y="335" width="3" height="4" fill="#00ff00"/>
<rect x="1065" y="314" width="1" height="26" fill="#ff0000"/>
<rect x="1064" y="316" width="3" height="23" fill="#ff0000"/>
<rect x="1069" y="315" width="1" height="50" fill="#00ff00"/>
<rect x="1068" y="316" width="3" height="37" fill="#00ff00"/>
<rect x="1073" y="344" width="1" height="21" fill="#ff0000"/>
<rect x="1072" y="346" width="3" height="6" fill="#ff0000"/>
<rect x="1077" y="326" width="1" height="31" fill="#ff0000"/>
<rect x="1076" y="331" width="3" height="17" fill="#ff0000"/>
<rect x="1081" y="307" width="1" height="28" fill="#ff0000"/>
<rect x="1080" y="310" width="3" height="22" fill="#ff0000"/>
<rect x="1085" y="307" width="1" height="9" fill="#00ff00"/>
<rect x="1084" y="309" width="3" height="6" fill="#00ff00"/>
<rect x="1089" y="288" width="1" height="32" fill="#ff0000"/>
<rect x="1088" y="298" width="3" height="21" fill="#ff0000"/>
<rect x="1093" y="287" width="1" height="17" fill="#ff0000"/>
<rect x="1092" y="289" width="3" height="10" fill="#ff0000"/>
<rect x="1097" y="287" width="1" height="10" fill="#00ff00"/>
<rect x="1096" y="289" width="3" height="6" fill="#00ff00"/>
<rect x="1101" y="279" width="1" height="18" fill="#ff0000"/>
<rect x="1100" y="279" width="3" height="18" fill="#ff0000"/>
<rect x="1105" y="240" width="1" height="41" fill="#ff0000"/>
<rect x="1104" y="242" width="3" height="38" fill="#ff0000"/>
<rect x="1109" y="240" width="1" height="11" fill="#00ff00"/>
<rect x="1108" y="242" width="3" height="7" fill="#00ff00"/>
<rect x="1113" y="227" width="1" height="21" fill="#ff0000"/>
<rect x="1112" y="232" width="3" height="15" fill="#ff0000"/>
<rect x="1117" y="202" width="1" height="34" fill="#ff0000"/>
<rect x="1116" y="204" width="3" height="30" fill="#ff0000"/>
<rect x="1121" y="201" width="1" height="16" fill="#00ff00"/>
<rect x="1120" y="204" width="3" height="12" fill="#00ff00"/>
<rect x="1125" y="211" width="1" height="33" fill="#00ff00"/>
<rect x="1124" y="215" width="3" height="11" fill="#00ff00"/>
<rect x="1129" y="225" width="1" height="64" fill="#00ff00"/>
<rect x="1128" y="225" width="3" height="43" fill="#00ff00"/>
<rect x="1133" y="257" width="1" height="12" fill="#ff0000"/>
<rect x="1132" y="264" width="3" height="4" fill="#ff0000"/>
<rect x="1137" y="263" width="1" height="29" fill="#00ff00"/>
<rect x="1136" y="282" width="3" height="5" fill="#00ff00"/>
<rect x="1141" y="280" width="1" height="65" fill="#00ff00"/>
<rect x="1140" y="282" width="3" height="58" fill="#00ff00"/>
<rect x="1145" y="325" width="1" height="31" fill="#00ff00"/>
<rect x="1144" y="339" width="3" height="10" fill="#00ff00"/>
<rect x="1149" y="329" width="1" height="27" fill="#00ff00"/>
<rect x="1148" y="350" width="3" height="3" fill="#00ff00"/>
<rect x="1153" y="307" width="1" height="48" fill="#ff0000"/>
<rect x="1152" y="309" width="3" height="44" fill="#ff0000"/>
<rect x="1157" y="303" width="1" height="10" fill="#ff0000"/>
<rect x="1156" y="304" width="3" height="7" fill="#ff0000"/>
<rect x="1161" y="295" width="1" height="23" fill="#ff0000"/>
<rect x="1160" y="308" width="3" height="9" fill="#ff0000"/>
<rect x="1165" y="298" width="1" height="28" fill="#00ff00"/>
<rect x="1164" y="308" width="3" height="5" fill="#00ff00"/>
<rect x="1169" y="306" width="1" height="26" fill="#ff0000"/>
<rect x="1168" y="308" width="3" height="5" fill="#ff0000"/>
<rect x="1173" y="284" width="1" height="36" fill="#00ff00"/>
<rect x="1172" y="310" width="3" height="6" fill="#00ff00"/>
<rect x="1177" y="304" width="1" height="33" fill="#00ff00"/>
<rect x="1176" y="314" width="3" height="18" fill="#00ff00"/>
<rect x="1181" y="326" width="1" height="9" fill="#00ff00"/>
<rect x="1180" y="329" width="3" height="5" fill="#00ff00"/>
<rect x="1185" y="322" width="1" height="29" fill="#00ff00"/>
<rect x="1184" y="333" width="3" height="9" fill="#00ff00"/>
<rect x="1189" y="335" width="1" height="24" fill="#00ff00"/>
<rect x="1188" y="341" width="3" height="8" fill="#00ff00"/>
<rect x="1193" y="345" width="1" height="30" fill="#00ff00"/>
<rect x="1192" y="347" width="3" height="20" fill="#00ff00"/>
<rect x="1197" y="331" width="1" height="39" fill="#ff0000"/>
<rect x="1196" y="357" width="3" height="9" fill="#ff0000"/>
<rect x="1201" y="348" width="1" height="34" fill="#00ff00"/>
<rect x="1200" y="357" width="3" height="19" fill="#00ff00"/>
<rect x="1205" y="371" width="1" height="12" fill="#00ff00"/>
<rect x="1204" y="374" width="3" height="4" fill="#00ff00"/>
<rect x="1209" y="383" width="1" height="54" fill="#00ff00"/>
<rect x="1208" y="384" width="3" height="49" fill="#00ff00"/>
<rect x="1213" y="426" width="1" height="26" fill="#00ff00"/>
<rect x="1212" y="431" width="3" height="9" fill="#00ff00"/>
<rect x="1217" y="412" width="1" height="39" fill="#00ff00"/>
<rect x="1216" y="437" width="3" height="11" fill="#00ff00"/>
<rect x="1221" y="428" width="1" height="55" fill="#00ff00"/>
<rect x="1220" y="448" width="3" height="31" fill="#00ff00"/>
<rect x="1225" y="464" width="1" height="34" fill="#00ff00"/>
<rect x="1224" y="477" width="3" height="11" fill="#00ff00"/>
<rect x="1229" y="479" width="1" height="14" fill="#ff0000"/>
<rect x="1228" y="484" width="3" height="4" fill="#ff0000"/>
<rect x="1233" y="477" width="1" height="20" fill="#ff0000"/>
<rect x="1232" y="487" width="3" height="10" fill="#ff0000"/>
<rect x="1237" y="453" width="1" height="47" fill="#ff0000"/>
<rect x="1236" y="459" width="3" height="30" fill="#ff0000"/>
<rect x="1241" y="419" width="1" height="43" fill="#ff0000"/>
<rect x="1240" y="444" width="3" height="16" fill="#ff0000"/>
<rect x="1245" y="427" width="1" height="26" fill="#00ff00"/>
<rect x="1244" y="443" width="3" height="9" fill="#00ff00"/>
<rect x="1249" y="445" width="1" height="69" fill="#00ff00"/>
<rect x="1248" y="450" width="3" height="45" fill="#00ff00"/>
<rect x="1253" y="491" width="1" height="11" fill="#00ff00"/>
<rect x="1252" y="493" width="3" height="8" fill="#00ff00"/>
<rect x="1257" y="475" width="1" height="37" fill="#ff0000"/>
<rect x="1256" y="499" width="3" height="7" fill="#ff0000"/>
<rect x="1261" y="451" width="1" height="52" fill="#ff0000"/>
<rect x="1260" y="463" width="3" height="38" fill="#ff0000"/>
<rect x="1265" y="440" width="1" height="27" fill="#ff0000"/>
<rect x="1264" y="444" width="3" height="20" fill="#ff0000"/>
<rect x="1269" y="439" width="1" height="37" fill="#00ff00"/>
<rect x="1268" y="444" width="3" height="7" fill="#00ff00"/>
<rect x="1273" y="451" width="1" height="22" fill="#00ff00"/>
<rect x="1272" y="454" width="3" height="13" fill="#00ff00"/>
<rect x="1277" y="465" width="1" height="11" fill="#00ff00"/>
<rect x="1276" y="466" width="3" height="8" fill="#00ff00"/>
<rect x="1281" y="453" width="1" height="20" fill="#00ff00"/>
<rect x="1280" y="465" width="3" height="6" fill="#00ff00"/>
<rect x="1285" y="464" width="1" height="42" fill="#00ff00"/>
<rect x="1284" y="469" width="3" height="16" fill="#00ff00"/>
<rect x="1289" y="474" width="1" height="39" fill="#00ff00"/>
<rect x="1288" y="475" width="3" height="31" fill="#00ff00"/>
<rect x="1293" y="486" width="1" height="68" fill="#00ff00"/>
<rect x="1292" y="505" width="3" height="40" fill="#00ff00"/>
<rect x="1297" y="536" width="1" height="44" fill="#ff0000"/>
<rect x="1296" y="539" width="3" height="6" fill="#ff0000"/>
<rect x="1301" y="533" width="1" height="10" fill="#00ff00"/>
<rect x="1300" y="539" width="3" height="2" fill="#00ff00"/>
<rect x="1305" y="549" width="1" height="23" fill="#ff0000"/>
<rect x="1304" y="563" width="3" height="9" fill="#ff0000"/>
<polyline points="5.5,82.6 9.5,84.1 13.5,85.6 17.5,86.9 21.5,89.3 25.5,91.3 29.5,93.0 33.5,95.0 37.5,96.7 41.5,97.5 45.5,100.1 49.5,101.1 53.5,101.7 57.5,100.8 61.5,99.5 65.5,99.0 69.5,99.4 73.5,100.5 77.5,102.6 81.5,104.9 85.5,108.4 89.5,113.9 93.5,120.0 97.5,126.4 101.5,132.4 105.5,137.4 109.5,140.7 113.5,142.8 117.5,144.6 121.5,144.6 125.5,144.6 129.5,143.7 133.5,143.3 137.5,144.1 141.5,143.6 145.5,144.5 149.5,146.2 153.5,146.8 157.5,146.9 161.5,149.6 165.5,149.9 169.5,150.9 173.5,151.9 177.5,153.4 181.5,156.8 185.5,157.3 189.5,157.4 193.5,157.2 197.5,156.4 201.5,155.3 205.5,153.6 209.5,149.9 213.5,147.3 217.5,143.4 221.5,139.9 225.5,136.5 229.5,133.9 233.5,131.7 237.5,129.2 241.5,127.7 245.5,125.8 249.5,124.9 253.5,125.0 257.5,126.7 261.5,129.6 265.5,130.9 269.5,132.1 273.5,133.8 277.5,136.6 281.5,137.4 285.5,139.5 289.5,141.9 293.5,144.2 297.5,147.7 301.5,149.1 305.5,152.7 309.5,156.5 313.5,159.3 317.5,162.2 321.5,167.1 325.5,172.3 329.5,178.7 333.5,185.0 337.5,193.6 341.5,202.2 345.5,209.7 349.5,218.1 353.5,226.2 357.5,233.3 361.5,239.8 365.5,246.0 369.5,252.2 373.5,256.8 377.5,260.1 381.5,262.9 385.5,266.1 389.5,268.9 393.5,271.7 397.5,273.2 401.5,275.0 405.5,275.6 409.5,276.1 413.5,276.4 417.5,277.2 421.5,278.6 425.5,280.2 429.5,282.1 433.5,285.6 437.5,289.5 441.5,292.0 445.5,294.2 449.5,296.0 453.5,295.6 457.5,294.2 461.5,292.5 465.5,290.9 469.5,288.0 473.5,284.7 477.5,281.6 481.5,278.9 485.5,276.4 489.5,275.1 493.5,273.2 497.5,269.7 501.5,266.6 505.5,265.6 509.5,264.4 513.5,264.1 517.5,265.8 521.5,266.1 525.5,266.2 529.5,266.0 533.5,265.4 537.5,263.5 541.5,261.7 545.5,259.4 549.5,255.6 553.5,250.8 557.5,245.8 561.5,240.6 565.5,237.0 569.5,233.8 573.5,232.8 577.5,233.3 581.5,233.9 585.5,235.6 589.5,238.6 593.5,241.7 597.5,245.9 601.5,251.6 605.5,257.9 609.5,263.1 613.5,269.6 617.5,277.5 621.5,283.4 625.5,288.2 629.5,293.6 633.5,299.6 637.5,303.2 641.5,309.3 645.5,314.9 649.5,321.4 653.5,328.2 657.5,335.6 661.5,342.4 665.5,348.9 669.5,356.8 673.5,365.0 677.5,373.2 681.5,380.5 685.5,387.3 689.5,393.8 693.5,400.0 697.5,405.0 701.5,410.0 705.5,415.4 709.5,418.6 713.5,421.1 717.5,422.2 721.5,420.8 725.5,419.2 729.5,416.5 733.5,413.7 737.5,410.6 741.5,408.9 745.5,406.3 749.5,403.8 753.5,400.7 757.5,399.0 761.5,396.0 765.5,395.7 769.5,396.0 773.5,396.6 777.5,396.6 781.5,396.2 785.5,397.4 789.5,397.7 793.5,397.2 797.5,397.1 801.5,398.2 805.5,399.8 809.5,401.1 813.5,400.5 817.5,399.6 821.5,398.3 825.5,397.5 829.5,398.4 833.5,400.3 837.5,401.8 841.5,403.2 845.5,404.6 849.5,407.5 853.5,410.6 857.5,413.7 861.5,415.0 865.5,416.1 869.5,416.9 873.5,416.8 877.5,416.6 881.5,416.7 885.5,416.1 889.5,414.4 893.5,412.8 897.5,410.9 901.5,408.9 905.5,405.5 909.5,401.7 913.5,397.5 917.5,393.3 921.5,388.8 925.5,383.4 929.5,378.0 933.5,374.2 937.5,371.5 941.5,369.3 945.5,366.3 949.5,363.0 953.5,360.1 957.5,360.0 961.5,359.8 965.5,359.3 969.5,358.2 973.5,356.3 977.5,354.9 981.5,355.8 985.5,357.6 989.5,359.6 993.5,362.3 997.5,364.5 1001.5,366.4 1005.5,367.8 1009.5,369.7 1013.5,371.3 1017.5,372.0 1021.5,372.7 1025.5,373.3 1029.5,375.1 1033.5,377.4 1037.5,379.4 1041.5,381.4 1045.5,383.9 1049.5,385.0 1053.5,384.6 1057.5,384.2 1061.5,383.8 1065.5,382.4 1069.5,382.1 1073.5,381.3 1077.5,378.3 1081.5,375.8 1085.5,373.4 1089.5,370.5 1093.5,367.7 1097.5,364.3 1101.5,360.2 1105.5,354.6 1109.5,349.1 1113.5,342.8 1117.5,335.9 1121.5,329.2 1125.5,322.5 1129.5,317.1 1133.5,311.6 1137.5,308.3 1141.5,307.4 1145.5,307.2 1149.5,306.4 1153.5,304.3 1157.5,302.2 1161.5,300.1 1165.5,297.5 1169.5,296.0 1173.5,296.1 1177.5,295.9 1181.5,295.7 1185.5,296.5 1189.5,296.4 1193.5,297.1 1197.5,297.9 1201.5,300.1 1205.5,302.2 1209.5,306.7 1213.5,311.7 1217.5,316.8 1221.5,323.4 1225.5,331.6 1229.5,339.4 1233.5,347.9 1237.5,356.4 1241.5,364.1 1245.5,371.6 1249.5,379.2 1253.5,387.0 1257.5,394.1 1261.5,398.3 1265.5,401.5 1269.5,404.7 1273.5,410.0 1277.5,415.6 1281.5,421.0 1285.5,426.7 1289.5,433.3 1293.5,440.9 1297.5,447.9 1301.5,454.8 1305.5,462.2" fill="none" stroke="#0000dc" stroke-width="1" shape-rendering="crispEdges" />
<polyline points="5.5,75.0 9.5,79.2 13.5,82.7 17.5,85.9 21.5,91.7 25.5,97.8 29.5,104.4 33.5,112.4 37.5,119.5 41.5,123.6 45.5,130.1 49.5,131.6 53.5,131.1 57.5,126.1 61.5,120.8 65.5,116.2 69.5,114.6 73.5,115.9 77.5,117.2 81.5,119.4 85.5,123.6 89.5,130.2 93.5,136.9 97.5,144.6 101.5,147.1 105.5,151.9 109.5,155.0 113.5,160.2 117.5,167.1 121.5,170.3 125.5,172.1 129.5,171.6 133.5,169.9 137.5,169.8 141.5,167.3 145.5,163.5 149.5,160.5 153.5,156.1 157.5,150.6 161.5,149.8 165.5,149.9 169.5,149.0 173.5,146.7 177.5,145.1 181.5,146.9 185.5,145.4 189.5,144.7 193.5,144.0 197.5,144.6 201.5,142.5 205.5,139.6 209.5,137.0 213.5,137.8 217.5,131.4 221.5,125.7 225.5,121.0 229.5,116.5 233.5,113.6 237.5,108.0 241.5,106.9 245.5,104.5 249.5,102.3 253.5,102.6 257.5,108.5 261.5,115.8 265.5,122.6 269.5,127.9 273.5,135.4 277.5,143.4 281.5,151.9 285.5,162.0 289.5,170.9 293.5,178.9 297.5,188.0 301.5,196.8 305.5,204.9 309.5,212.2 313.5,213.9 317.5,214.4 321.5,220.1 325.5,225.8 329.5,233.4 333.5,241.6 337.5,251.6 341.5,260.0 345.5,266.4 349.5,274.9 353.5,281.8 357.5,288.4 361.5,293.6 365.5,296.2 369.5,301.2 373.5,305.5 377.5,307.7 381.5,309.9 385.5,309.8 389.5,307.6 393.5,302.7 397.5,295.4 401.5,291.8 405.5,285.1 409.5,277.8 413.5,271.2 417.5,268.1 421.5,266.6 425.5,265.0 429.5,266.3 433.5,268.7 437.5,271.4 441.5,275.8 445.5,280.0 449.5,285.4 453.5,289.6 457.5,292.6 461.5,296.1 465.5,298.1 469.5,299.9 473.5,297.9 477.5,294.9 481.5,290.9 485.5,284.1 489.5,278.6 493.5,270.5 497.5,259.9 501.5,250.9 505.5,244.6 509.5,240.9 513.5,238.2 517.5,238.3 521.5,238.8 525.5,238.4 529.5,237.7 533.5,236.6 537.5,234.9 541.5,235.0 545.5,231.3 549.5,228.6 553.5,228.2 557.5,226.8 561.5,222.3 565.5,221.1 569.5,220.6 573.5,218.9 577.5,222.2 581.5,226.9 585.5,233.0 589.5,242.4 593.5,251.3 597.5,261.0 601.5,274.1 605.5,289.1 609.5,304.9 613.5,321.5 617.5,338.9 621.5,350.3 625.5,361.3 629.5,371.1 633.5,380.3 637.5,386.8 641.5,396.7 645.5,401.9 649.5,408.4 653.5,412.9 657.5,415.0 661.5,415.9 665.5,415.2 669.5,415.5 673.5,415.9 677.5,419.3 681.5,420.1 685.5,421.9 689.5,422.5 693.5,426.4 697.5,427.1 701.5,430.6 705.5,434.5 709.5,436.1 713.5,434.6 717.5,432.1 721.5,428.1 725.5,423.0 729.5,415.2 733.5,408.3 737.5,403.4 741.5,396.6 745.5,388.1 749.5,379.1 753.5,371.1 757.5,363.2 761.5,355.1 765.5,352.9 769.5,354.6 773.5,358.0 777.5,363.2 781.5,366.6 785.5,374.3 789.5,381.2 793.5,387.1 797.5,394.1 801.5,402.6 805.5,413.4 809.5,423.4 813.5,429.7 817.5,434.9 821.5,436.2 825.5,437.8 829.5,440.1 833.5,442.6 837.5,443.9 841.5,440.6 845.5,437.9 849.5,437.1 853.5,437.2 857.5,436.6 861.5,429.2 865.5,420.3 869.5,414.1 873.5,407.9 877.5,402.5 881.5,396.2 885.5,390.8 889.5,384.7 893.5,381.7 897.5,379.6 901.5,375.9 905.5,370.1 909.5,362.1 913.5,352.5 917.5,347.6 921.5,344.2 925.5,341.7 929.5,340.2 933.5,338.9 937.5,338.1 941.5,335.8 945.5,334.7 949.5,333.4 953.5,333.7 957.5,339.1 961.5,342.6 965.5,347.1 969.5,353.0 973.5,357.9 977.5,363.9 981.5,370.1 985.5,376.5 989.5,382.7 993.5,388.1 997.5,392.3 1001.5,396.4 1005.5,401.0 1009.5,405.2 1013.5,405.9 1017.5,405.9 1021.5,404.5 1025.5,402.3 1029.5,402.4 1033.5,400.7 1037.5,398.1 1041.5,395.3 1045.5,393.8 1049.5,388.9 1053.5,381.9 1057.5,376.3 1061.5,370.0 1065.5,362.0 1069.5,356.4 1073.5,353.6 1077.5,351.1 1081.5,348.0 1085.5,343.6 1089.5,338.3 1093.5,332.7 1097.5,327.3 1101.5,319.3 1105.5,311.3 1109.5,306.7 1113.5,299.2 1117.5,289.6 1121.5,282.4 1125.5,273.4 1129.5,267.7 1133.5,262.9 1137.5,261.2 1141.5,263.0 1145.5,266.6 1149.5,271.1 1153.5,272.1 1157.5,273.9 1161.5,278.6 1165.5,283.2 1169.5,288.6 1173.5,296.6 1177.5,304.9 1181.5,312.6 1185.5,317.9 1189.5,323.9 1193.5,329.6 1197.5,330.9 1201.5,332.8 1205.5,334.6 1209.5,343.4 1213.5,353.0 1217.5,362.9 1221.5,374.8 1225.5,387.6 1229.5,399.6 1233.5,410.8 1237.5,419.8 1241.5,427.1 1245.5,434.5 1249.5,443.6 1253.5,453.9 1257.5,462.7 1261.5,468.9 1265.5,469.7 1269.5,470.5 1273.5,471.9 1277.5,471.5 1281.5,470.3 1285.5,470.3 1289.5,471.6 1293.5,477.6 1297.5,484.4 1301.5,490.8 1305.5,495.7" fill="none" stroke="#ff0000" stroke-width="1" shape-rendering="crispEdges" />
<polyline points="5.5,116.4 9.5,138.7 13.5,150.8 17.5,152.8 21.5,152.0 25.5,146.4 29.5,133.8 33.5,126.0 37.5,121.0 41.5,108.8 45.5,113.6 49.5,114.6 53.5,114.8 57.5,109.8 61.5,108.4 65.5,99.8 69.5,103.2 73.5,110.0 77.5,127.0 81.5,142.4 85.5,154.6 89.5,169.6 93.5,180.0 97.5,185.4 101.5,191.4 105.5,193.6 109.5,184.2 113.5,175.0 117.5,171.6 121.5,164.6 125.5,159.8 129.5,156.6 133.5,154.2 137.5,149.8 141.5,146.2 145.5,145.6 149.5,148.8 153.5,146.6 157.5,137.6 161.5,144.6 165.5,146.2 169.5,142.8 173.5,145.4 177.5,149.2 181.5,151.6 185.5,143.8 189.5,142.2 193.5,142.2 197.5,144.8 201.5,133.4 205.5,132.8 209.5,125.0 213.5,120.2 217.5,107.6 221.5,99.2 225.5,90.6 229.5,88.0 233.5,81.4 237.5,86.2 241.5,91.0 245.5,96.0 249.5,102.4 253.5,114.2 257.5,134.8 261.5,157.8 265.5,175.8 269.5,192.0 273.5,199.2 277.5,196.8 281.5,191.6 285.5,198.2 289.5,201.8 293.5,208.2 297.5,216.0 301.5,221.8 305.5,222.6 309.5,229.8 313.5,232.8 317.5,231.6 321.5,241.2 325.5,250.4 329.5,258.4 333.5,274.2 337.5,296.0 341.5,309.8 345.5,315.4 349.5,324.4 353.5,328.6 357.5,324.6 361.5,316.6 365.5,313.4 369.5,306.6 373.5,298.0 377.5,295.4 381.5,296.2 385.5,296.4 389.5,292.2 393.5,288.2 397.5,275.4 401.5,264.6 405.5,255.4 409.5,245.0 413.5,236.4 417.5,240.0 421.5,243.0 425.5,250.2 429.5,265.8 433.5,288.4 437.5,305.6 441.5,322.0 445.5,334.2 449.5,341.8 453.5,334.0 457.5,324.0 461.5,312.4 465.5,295.6 469.5,276.8 473.5,263.2 477.5,249.2 481.5,235.4 485.5,226.8 489.5,229.0 493.5,228.8 497.5,224.2 501.5,222.2 505.5,231.2 509.5,228.2 513.5,233.6 517.5,251.8 521.5,261.8 525.5,259.2 529.5,254.4 533.5,244.6 537.5,226.0 541.5,216.2 545.5,209.2 549.5,203.4 553.5,200.8 557.5,199.4 561.5,195.6 565.5,199.8 569.5,211.0 573.5,225.8 577.5,249.0 581.5,272.0 585.5,287.6 589.5,305.6 593.5,316.6 597.5,324.8 601.5,341.6 605.5,360.6 609.5,375.8 613.5,396.0 617.5,413.8 621.5,413.0 625.5,413.0 629.5,411.2 633.5,413.6 637.5,406.0 641.5,417.6 645.5,419.4 649.5,421.2 653.5,416.2 657.5,420.6 661.5,414.4 665.5,413.0 669.5,415.8 673.5,422.0 677.5,425.0 681.5,424.6 685.5,430.0 689.5,433.2 693.5,435.6 697.5,439.6 701.5,448.8 705.5,456.4 709.5,454.2 713.5,443.4 717.5,428.2 721.5,406.2 725.5,383.6 729.5,363.6 733.5,351.4 737.5,344.4 741.5,341.8 745.5,335.4 749.5,334.6 753.5,335.4 757.5,336.2 761.5,340.0 765.5,355.6 769.5,374.6 773.5,391.6 777.5,406.2 781.5,416.0 785.5,423.6 789.5,426.0 793.5,426.0 797.5,428.2 801.5,436.2 805.5,444.0 809.5,453.4 813.5,455.4 817.5,454.4 821.5,449.6 825.5,443.0 829.5,438.4 833.5,442.2 837.5,441.2 841.5,435.8 845.5,426.2 849.5,417.8 853.5,413.2 857.5,415.8 861.5,412.2 865.5,404.2 869.5,391.0 873.5,372.4 877.5,354.0 881.5,350.6 885.5,355.8 889.5,359.8 893.5,367.8 897.5,371.8 901.5,369.2 905.5,359.8 909.5,349.8 913.5,334.0 917.5,322.4 921.5,315.6 925.5,311.6 929.5,311.2 933.5,315.8 937.5,324.0 941.5,332.2 945.5,340.2 949.5,348.6 953.5,357.4 957.5,372.2 961.5,379.0 965.5,384.4 969.5,389.0 973.5,390.2 977.5,385.0 981.5,388.4 985.5,393.6 989.5,399.0 993.5,408.4 997.5,411.6 1001.5,414.0 1005.5,417.2 1009.5,420.4 1013.5,422.0 1017.5,417.0 1021.5,407.0 1025.5,392.6 1029.5,382.2 1033.5,370.6 1037.5,366.8 1041.5,367.8 1045.5,375.2 1049.5,370.8 1053.5,358.8 1057.5,352.8 1061.5,346.4 1065.5,331.4 1069.5,331.0 1073.5,337.8 1077.5,336.6 1081.5,331.0 1085.5,330.6 1089.5,319.8 1093.5,308.4 1097.5,301.0 1101.5,294.8 1105.5,280.4 1109.5,270.4 1113.5,259.0 1117.5,241.0 1121.5,228.2 1125.5,224.8 1129.5,228.6 1133.5,235.0 1137.5,251.4 1141.5,276.2 1145.5,300.8 1149.5,317.8 1153.5,326.8 1157.5,330.4 1161.5,324.2 1165.5,317.0 1169.5,308.2 1173.5,309.4 1177.5,314.8 1181.5,319.8 1185.5,325.6 1189.5,333.6 1193.5,343.8 1197.5,349.0 1201.5,357.4 1205.5,364.6 1209.5,381.4 1213.5,396.0 1217.5,414.0 1221.5,434.6 1225.5,456.6 1229.5,467.0 1233.5,476.6 1237.5,479.0 1241.5,472.2 1245.5,465.0 1249.5,467.0 1253.5,469.6 1257.5,477.6 1261.5,481.4 1265.5,480.0 1269.5,471.2 1273.5,464.4 1277.5,459.2 1281.5,460.6 1285.5,468.6 1289.5,479.6 1293.5,495.2 1297.5,508.4 1301.5,522.4 1305.5,538.2" fill="none" stroke="#ffa500" stroke-width="1" shape-rendering="crispEdges" />
<rect x="5" y="563" width="1636" height="1" fill="#c0c0c0"/>
<rect x="5" y="140" width="1636" height="2" fill="#ff0000"/>
<rect x="5" y="225" width="1636" height="2" fill="#ff0000"/>
<rect x="5" y="310" width="1636" height="2" fill="#ff0000"/>
<rect x="5" y="416" width="1636" height="2" fill="#00ff00"/>
<rect x="5" y="505" width="1636" height="2" fill="#0000ff"/>
</g>
<path d="M1308 26 L1317 26 L1312.5 31 Z" fill="#c0c0c0" shape-rendering="auto"/>
<path d="M8 32 L15 32 L11.5 36 Z" fill="#000" shape-rendering="auto"/>
<text x="19.90" y="37.00" font-size="9.7px" fill="#000" textLength="66.30" lengthAdjust="spacingAndGlyphs" stroke="#000" stroke-width="0.18">AUDUSD,Daily</text>
<text x="91.40" y="37.00" font-size="9.7px" fill="#000" textLength="141.00" lengthAdjust="spacingAndGlyphs" stroke="#000" stroke-width="0.18">0.65929 0.66187 0.65929 0.66029</text>
<rect x="1642" y="28" width="2" height="1" fill="#000"/>
<text x="1646.40" y="32.00" font-size="9.7px" fill="#000" textLength="33.20" lengthAdjust="spacingAndGlyphs" stroke="#000" stroke-width="0.18">0.72350</text>
<rect x="1642" y="61" width="2" height="1" fill="#000"/>
<text x="1646.40" y="65.00" font-size="9.7px" fill="#000" textLength="33.20" lengthAdjust="spacingAndGlyphs" stroke="#000" stroke-width="0.18">0.71960</text>
<rect x="1642" y="94" width="2" height="1" fill="#000"/>
<text x="1646.40" y="98.00" font-size="9.7px" fill="#000" textLength="33.20" lengthAdjust="spacingAndGlyphs" stroke="#000" stroke-width="0.18">0.71570</text>
<rect x="1642" y="127" width="2" height="1" fill="#000"/>
<text x="1646.40" y="131.00" font-size="9.7px" fill="#000" textLength="33.20" lengthAdjust="spacingAndGlyphs" stroke="#000" stroke-width="0.18">0.71180</text>
<rect x="1642" y="160" width="2" height="1" fill="#000"/>
<text x="1646.40" y="164.00" font-size="9.7px" fill="#000" textLength="33.20" lengthAdjust="spacingAndGlyphs" stroke="#000" stroke-width="0.18">0.70790</text>
<rect x="1642" y="193" width="2" height="1" fill="#000"/>
<text x="1646.40" y="197.00" font-size="9.7px" fill="#000" textLength="33.20" lengthAdjust="spacingAndGlyphs" stroke="#000" stroke-width="0.18">0.70400</text>
<rect x="1642" y="226" width="2" height="1" fill="#000"/>
<text x="1646.40" y="230.00" font-size="9.7px" fill="#000" textLength="33.20" lengthAdjust="spacingAndGlyphs" stroke="#000" stroke-width="0.18">0.70010</text>
<rect x="1642" y="259" width="2" height="1" fill="#000"/>
<text x="1646.40" y="263.00" font-size="9.7px" fill="#000" textLength="33.20" lengthAdjust="spacingAndGlyphs" stroke="#000" stroke-width="0.18">0.69620</text>
<rect x="1642" y="292" width="2" height="1" fill="#000"/>
<text x="1646.40" y="296.00" font-size="9.7px" fill="#000" textLength="33.20" lengthAdjust="spacingAndGlyphs" stroke="#000" stroke-width="0.18">0.69230</text>
<rect x="1642" y="325" width="2" height="1" fill="#000"/>
<text x="1646.40" y="329.00" font-size="9.7px" fill="#000" textLength="33.20" lengthAdjust="spacingAndGlyphs" stroke="#000" stroke-width="0.18">0.68840</text>
<rect x="1642" y="358" width="2" height="1" fill="#000"/>
<text x="1646.40" y="362.00" font-size="9.7px" fill="#000" textLength="33.20" lengthAdjust="spacingAndGlyphs" stroke="#000" stroke-width="0.18">0.68450</text>
<rect x="1642" y="391" width="2" height="1" fill="#000"/>
<text x="1646.40" y="395.00" font-size="9.7px" fill="#000" textLength="33.20" lengthAdjust="spacingAndGlyphs" stroke="#000" stroke-width="0.18">0.68060</text>
<rect x="1642" y="424" width="2" height="1" fill="#000"/>
<text x="1646.40" y="428.00" font-size="9.7px" fill="#000" textLength="33.20" lengthAdjust="spacingAndGlyphs" stroke="#000" stroke-width="0.18">0.67670</text>
<rect x="1642" y="457" width="2" height="1" fill="#000"/>
<text x="1646.40" y="461.00" font-size="9.7px" fill="#000" textLength="33.20" lengthAdjust="spacingAndGlyphs" stroke="#000" stroke-width="0.18">0.67280</text>
<rect x="1642" y="490" width="2" height="1" fill="#000"/>
<text x="1646.40" y="494.00" font-size="9.7px" fill="#000" textLength="33.20" lengthAdjust="spacingAndGlyphs" stroke="#000" stroke-width="0.18">0.66890</text>
<rect x="1642" y="523" width="2" height="1" fill="#000"/>
<text x="1646.40" y="527.00" font-size="9.7px" fill="#000" textLength="33.20" lengthAdjust="spacingAndGlyphs" stroke="#000" stroke-width="0.18">0.66500</text>
<rect x="1642" y="556" width="2" height="1" fill="#000"/>
<text x="1646.40" y="560.00" font-size="9.7px" fill="#000" textLength="33.20" lengthAdjust="spacingAndGlyphs" stroke="#000" stroke-width="0.18">0.66110</text>
<rect x="1642" y="589" width="2" height="1" fill="#000"/>
<text x="1646.40" y="593.00" font-size="9.7px" fill="#000" textLength="33.20" lengthAdjust="spacingAndGlyphs" stroke="#000" stroke-width="0.18">0.65720</text>
<rect x="1643" y="135" width="41" height="11" fill="#ff0000"/>
<text x="1646.40" y="144.00" font-size="9.7px" fill="#fff" textLength="33.20" lengthAdjust="spacingAndGlyphs" stroke="#fff" stroke-width="0.18">0.71016</text>
<rect x="1643" y="220" width="41" height="11" fill="#ff0000"/>
<text x="1646.40" y="229.00" font-size="9.7px" fill="#fff" textLength="33.20" lengthAdjust="spacingAndGlyphs" stroke="#fff" stroke-width="0.18">0.70007</text>
<rect x="1643" y="305" width="41" height="11" fill="#ff0000"/>
<text x="1646.40" y="314.00" font-size="9.7px" fill="#fff" textLength="33.20" lengthAdjust="spacingAndGlyphs" stroke="#fff" stroke-width="0.18">0.69010</text>
<rect x="1643" y="411" width="41" height="11" fill="#00ff00"/>
<text x="1646.40" y="420.00" font-size="9.7px" fill="#fff" textLength="33.20" lengthAdjust="spacingAndGlyphs" stroke="#fff" stroke-width="0.18">0.67754</text>
<rect x="1643" y="500" width="41" height="11" fill="#0000ff"/>
<text x="1646.40" y="509.00" font-size="9.7px" fill="#fff" textLength="33.20" lengthAdjust="spacingAndGlyphs" stroke="#fff" stroke-width="0.18">0.66706</text>
<rect x="1643" y="558" width="41" height="11" fill="#000000"/>
<text x="1646.40" y="567.00" font-size="9.7px" fill="#fff" textLength="33.20" lengthAdjust="spacingAndGlyphs" stroke="#fff" stroke-width="0.18">0.66029</text>
<g clip-path="url(#cr)">
<line x1="6" y1="626.5" x2="1641" y2="626.5" stroke="#c0c0c0" stroke-width="1" stroke-dasharray="3 3"/>
<line x1="6" y1="667.5" x2="1641" y2="667.5" stroke="#c0c0c0" stroke-width="1" stroke-dasharray="3 3"/>
<polyline points="5.5,660.4 9.5,662.8 13.5,657.9 17.5,652.9 21.5,655.6 25.5,650.8 29.5,647.0 33.5,648.0 37.5,646.4 41.5,642.2 45.5,654.6 49.5,647.3 53.5,647.5 57.5,641.7 61.5,641.3 65.5,646.9 69.5,651.0 73.5,653.9 77.5,656.7 81.5,654.5 85.5,656.5 89.5,661.9 93.5,660.6 97.5,658.8 101.5,657.0 105.5,655.2 109.5,649.9 113.5,648.9 117.5,653.6 121.5,647.5 125.5,648.3 129.5,645.2 133.5,645.2 137.5,648.3 141.5,643.0 145.5,647.9 149.5,649.3 153.5,642.6 157.5,637.9 161.5,651.2 165.5,649.4 169.5,645.4 173.5,646.1 177.5,642.7 181.5,653.1 185.5,642.2 189.5,644.4 193.5,646.4 197.5,645.9 201.5,642.5 205.5,641.6 209.5,637.4 213.5,643.2 217.5,636.3 221.5,637.0 225.5,636.0 229.5,637.5 233.5,639.0 237.5,642.8 241.5,643.5 245.5,642.4 249.5,645.8 253.5,653.4 257.5,663.2 261.5,665.1 265.5,657.5 269.5,658.1 273.5,655.2 277.5,657.1 281.5,657.2 285.5,662.1 289.5,659.0 293.5,659.3 297.5,662.4 301.5,659.7 305.5,660.4 309.5,664.1 313.5,658.0 317.5,657.1 321.5,665.0 325.5,665.3 329.5,667.5 333.5,670.3 337.5,673.5 341.5,674.0 345.5,661.5 349.5,666.0 353.5,664.8 357.5,660.8 361.5,656.6 365.5,652.7 369.5,655.4 373.5,652.0 377.5,655.2 381.5,655.6 385.5,650.6 389.5,648.5 393.5,645.4 397.5,639.0 401.5,642.3 405.5,640.1 409.5,637.1 413.5,636.4 417.5,645.8 421.5,648.0 425.5,650.7 429.5,656.7 433.5,662.3 437.5,663.2 441.5,664.1 445.5,660.7 449.5,661.7 453.5,648.6 457.5,647.4 461.5,646.6 465.5,638.4 469.5,637.4 473.5,633.8 477.5,632.5 481.5,632.1 485.5,630.2 489.5,644.7 493.5,638.4 497.5,633.4 501.5,636.3 505.5,646.4 509.5,644.3 513.5,646.6 517.5,653.1 521.5,647.0 525.5,643.7 529.5,639.9 533.5,637.7 537.5,636.2 541.5,639.5 545.5,638.8 549.5,636.0 553.5,636.5 557.5,635.9 561.5,636.5 565.5,646.4 569.5,650.7 573.5,654.8 577.5,661.4 581.5,661.6 585.5,661.3 589.5,666.1 593.5,661.5 597.5,665.3 601.5,670.6 605.5,671.7 609.5,672.9 613.5,674.0 617.5,675.3 621.5,660.8 625.5,662.8 629.5,663.2 633.5,667.3 637.5,657.8 641.5,663.9 645.5,656.4 649.5,656.8 653.5,656.2 657.5,657.7 661.5,656.3 665.5,653.6 669.5,657.7 673.5,659.9 677.5,658.3 681.5,652.4 685.5,655.8 689.5,658.0 693.5,659.7 697.5,660.1 701.5,660.6 705.5,662.4 709.5,651.6 713.5,643.9 717.5,639.9 721.5,634.5 725.5,636.3 729.5,632.5 733.5,634.2 737.5,635.8 741.5,634.2 745.5,632.0 749.5,633.6 753.5,638.0 757.5,639.8 761.5,641.7 765.5,653.5 769.5,657.8 773.5,658.5 777.5,656.7 781.5,651.4 785.5,658.7 789.5,657.5 793.5,655.1 797.5,656.2 801.5,658.5 805.5,664.9 809.5,665.5 813.5,652.1 817.5,649.6 821.5,647.7 825.5,653.3 829.5,656.0 833.5,655.2 837.5,646.5 841.5,640.2 845.5,641.5 849.5,646.2 853.5,649.7 857.5,650.1 861.5,637.6 865.5,634.8 869.5,633.9 873.5,632.1 877.5,633.0 881.5,637.0 885.5,643.6 889.5,641.1 893.5,643.4 897.5,639.8 901.5,636.1 905.5,634.6 909.5,631.9 913.5,628.6 917.5,629.9 921.5,631.6 925.5,633.6 929.5,634.7 933.5,636.5 937.5,643.8 941.5,645.4 945.5,646.9 949.5,648.5 953.5,650.7 957.5,663.2 961.5,652.2 965.5,651.7 969.5,651.9 973.5,648.9 977.5,654.0 981.5,655.8 985.5,657.4 989.5,657.9 993.5,660.3 997.5,656.0 1001.5,657.1 1005.5,659.9 1009.5,660.4 1013.5,660.9 1017.5,644.4 1021.5,638.7 1025.5,636.1 1029.5,643.2 1033.5,642.2 1037.5,640.8 1041.5,641.8 1045.5,648.7 1049.5,638.6 1053.5,630.5 1057.5,637.7 1061.5,638.0 1065.5,633.8 1069.5,643.2 1073.5,642.0 1077.5,638.9 1081.5,635.0 1085.5,636.2 1089.5,633.2 1093.5,631.6 1097.5,633.2 1101.5,630.4 1105.5,624.7 1109.5,626.7 1113.5,624.4 1117.5,620.8 1121.5,624.6 1125.5,627.9 1129.5,639.9 1133.5,639.3 1137.5,644.8 1141.5,655.1 1145.5,656.6 1149.5,657.3 1153.5,647.5 1157.5,646.4 1161.5,647.3 1165.5,648.2 1169.5,647.2 1173.5,648.9 1177.5,652.6 1181.5,653.1 1185.5,655.0 1189.5,656.6 1193.5,660.5 1197.5,657.3 1201.5,661.2 1205.5,661.6 1209.5,670.7 1213.5,671.6 1217.5,672.6 1221.5,676.2 1225.5,677.1 1229.5,675.9 1233.5,676.2 1237.5,665.1 1241.5,660.0 1245.5,661.3 1249.5,668.3 1253.5,669.1 1257.5,668.8 1261.5,656.9 1265.5,651.7 1269.5,653.0 1273.5,656.3 1277.5,657.7 1281.5,656.7 1285.5,659.7 1289.5,663.6 1293.5,669.5 1297.5,667.8 1301.5,667.9 1305.5,671.2" fill="none" stroke="#1e90ff" stroke-width="1" shape-rendering="crispEdges"/>
</g>
<text x="8.90" y="607.00" font-size="9.7px" fill="#000" textLength="68.20" lengthAdjust="spacingAndGlyphs" stroke="#000" stroke-width="0.18">RSI(14) 25.7634</text>
<rect x="1642" y="596" width="2" height="1" fill="#000"/>
<rect x="1642" y="697" width="2" height="1" fill="#000"/>
<text x="1644.90" y="605.00" font-size="9.7px" fill="#000" textLength="15.20" lengthAdjust="spacingAndGlyphs" stroke="#000" stroke-width="0.18">100</text>
<text x="1643.40" y="630.00" font-size="9.7px" fill="#000" textLength="11.10" lengthAdjust="spacingAndGlyphs" stroke="#000" stroke-width="0.18">70</text>
<text x="1643.40" y="671.00" font-size="9.7px" fill="#000" textLength="11.20" lengthAdjust="spacingAndGlyphs" stroke="#000" stroke-width="0.18">30</text>
<text x="1644.90" y="695.00" font-size="9.7px" fill="#000" textLength="5.20" lengthAdjust="spacingAndGlyphs" stroke="#000" stroke-width="0.18">0</text>
<g clip-path="url(#cd)">
<rect x="5" y="747" width="1" height="4" fill="#c0c0c0"/>
<rect x="9" y="747" width="1" height="10" fill="#c0c0c0"/>
<rect x="13" y="747" width="1" height="14" fill="#c0c0c0"/>
<rect x="17" y="747" width="1" height="14" fill="#c0c0c0"/>
<rect x="21" y="747" width="1" height="16" fill="#c0c0c0"/>
<rect x="25" y="747" width="1" height="15" fill="#c0c0c0"/>
<rect x="29" y="747" width="1" height="13" fill="#c0c0c0"/>
<rect x="33" y="747" width="1" height="12" fill="#c0c0c0"/>
<rect x="37" y="747" width="1" height="10" fill="#c0c0c0"/>
<rect x="41" y="747" width="1" height="7" fill="#c0c0c0"/>
<rect x="45" y="747" width="1" height="9" fill="#c0c0c0"/>
<rect x="49" y="747" width="1" height="8" fill="#c0c0c0"/>
<rect x="53" y="747" width="1" height="8" fill="#c0c0c0"/>
<rect x="57" y="747" width="1" height="4" fill="#c0c0c0"/>
<rect x="61" y="747" width="1" height="1" fill="#c0c0c0"/>
<rect x="65" y="747" width="1" height="1" fill="#c0c0c0"/>
<rect x="69" y="747" width="1" height="3" fill="#c0c0c0"/>
<rect x="73" y="747" width="1" height="6" fill="#c0c0c0"/>
<rect x="77" y="747" width="1" height="10" fill="#c0c0c0"/>
<rect x="81" y="747" width="1" height="12" fill="#c0c0c0"/>
<rect x="85" y="747" width="1" height="14" fill="#c0c0c0"/>
<rect x="89" y="747" width="1" height="19" fill="#c0c0c0"/>
<rect x="93" y="747" width="1" height="22" fill="#c0c0c0"/>
<rect x="97" y="747" width="1" height="24" fill="#c0c0c0"/>
<rect x="101" y="747" width="1" height="24" fill="#c0c0c0"/>
<rect x="105" y="747" width="1" height="24" fill="#c0c0c0"/>
<rect x="109" y="747" width="1" height="21" fill="#c0c0c0"/>
<rect x="113" y="747" width="1" height="19" fill="#c0c0c0"/>
<rect x="117" y="747" width="1" height="19" fill="#c0c0c0"/>
<rect x="121" y="747" width="1" height="16" fill="#c0c0c0"/>
<rect x="125" y="747" width="1" height="14" fill="#c0c0c0"/>
<rect x="129" y="747" width="1" height="11" fill="#c0c0c0"/>
<rect x="133" y="747" width="1" height="9" fill="#c0c0c0"/>
<rect x="137" y="747" width="1" height="8" fill="#c0c0c0"/>
<rect x="141" y="747" width="1" height="6" fill="#c0c0c0"/>
<rect x="145" y="747" width="1" height="5" fill="#c0c0c0"/>
<rect x="149" y="747" width="1" height="5" fill="#c0c0c0"/>
<rect x="153" y="747" width="1" height="3" fill="#c0c0c0"/>
<rect x="157" y="747" width="1" height="1" fill="#c0c0c0"/>
<rect x="161" y="747" width="1" height="2" fill="#c0c0c0"/>
<rect x="165" y="747" width="1" height="3" fill="#c0c0c0"/>
<rect x="169" y="747" width="1" height="2" fill="#c0c0c0"/>
<rect x="173" y="747" width="1" height="1" fill="#c0c0c0"/>
<rect x="177" y="747" width="1" height="1" fill="#c0c0c0"/>
<rect x="181" y="747" width="1" height="3" fill="#c0c0c0"/>
<rect x="185" y="747" width="1" height="1" fill="#c0c0c0"/>
<rect x="189" y="746" width="1" height="1" fill="#c0c0c0"/>
<rect x="193" y="746" width="1" height="1" fill="#c0c0c0"/>
<rect x="197" y="746" width="1" height="1" fill="#c0c0c0"/>
<rect x="201" y="744" width="1" height="3" fill="#c0c0c0"/>
<rect x="205" y="743" width="1" height="4" fill="#c0c0c0"/>
<rect x="209" y="740" width="1" height="8" fill="#c0c0c0"/>
<rect x="213" y="739" width="1" height="8" fill="#c0c0c0"/>
<rect x="217" y="736" width="1" height="12" fill="#c0c0c0"/>
<rect x="221" y="733" width="1" height="14" fill="#c0c0c0"/>
<rect x="225" y="731" width="1" height="16" fill="#c0c0c0"/>
<rect x="229" y="730" width="1" height="17" fill="#c0c0c0"/>
<rect x="233" y="730" width="1" height="18" fill="#c0c0c0"/>
<rect x="237" y="731" width="1" height="16" fill="#c0c0c0"/>
<rect x="241" y="732" width="1" height="15" fill="#c0c0c0"/>
<rect x="245" y="733" width="1" height="14" fill="#c0c0c0"/>
<rect x="249" y="735" width="1" height="12" fill="#c0c0c0"/>
<rect x="253" y="740" width="1" height="7" fill="#c0c0c0"/>
<rect x="257" y="747" width="1" height="1" fill="#c0c0c0"/>
<rect x="261" y="747" width="1" height="9" fill="#c0c0c0"/>
<rect x="265" y="747" width="1" height="13" fill="#c0c0c0"/>
<rect x="269" y="747" width="1" height="16" fill="#c0c0c0"/>
<rect x="273" y="747" width="1" height="17" fill="#c0c0c0"/>
<rect x="277" y="747" width="1" height="18" fill="#c0c0c0"/>
<rect x="281" y="747" width="1" height="20" fill="#c0c0c0"/>
<rect x="285" y="747" width="1" height="23" fill="#c0c0c0"/>
<rect x="289" y="747" width="1" height="24" fill="#c0c0c0"/>
<rect x="293" y="747" width="1" height="25" fill="#c0c0c0"/>
<rect x="297" y="747" width="1" height="27" fill="#c0c0c0"/>
<rect x="301" y="747" width="1" height="27" fill="#c0c0c0"/>
<rect x="305" y="747" width="1" height="28" fill="#c0c0c0"/>
<rect x="309" y="747" width="1" height="29" fill="#c0c0c0"/>
<rect x="313" y="747" width="1" height="29" fill="#c0c0c0"/>
<rect x="317" y="747" width="1" height="28" fill="#c0c0c0"/>
<rect x="321" y="747" width="1" height="30" fill="#c0c0c0"/>
<rect x="325" y="747" width="1" height="32" fill="#c0c0c0"/>
<rect x="329" y="747" width="1" height="35" fill="#c0c0c0"/>
<rect x="333" y="747" width="1" height="38" fill="#c0c0c0"/>
<rect x="337" y="747" width="1" height="42" fill="#c0c0c0"/>
<rect x="341" y="747" width="1" height="45" fill="#c0c0c0"/>
<rect x="345" y="747" width="1" height="44" fill="#c0c0c0"/>
<rect x="349" y="747" width="1" height="46" fill="#c0c0c0"/>
<rect x="353" y="747" width="1" height="46" fill="#c0c0c0"/>
<rect x="357" y="747" width="1" height="44" fill="#c0c0c0"/>
<rect x="361" y="747" width="1" height="41" fill="#c0c0c0"/>
<rect x="365" y="747" width="1" height="37" fill="#c0c0c0"/>
<rect x="369" y="747" width="1" height="34" fill="#c0c0c0"/>
<rect x="373" y="747" width="1" height="31" fill="#c0c0c0"/>
<rect x="377" y="747" width="1" height="29" fill="#c0c0c0"/>
<rect x="381" y="747" width="1" height="28" fill="#c0c0c0"/>
<rect x="385" y="747" width="1" height="25" fill="#c0c0c0"/>
<rect x="389" y="747" width="1" height="22" fill="#c0c0c0"/>
<rect x="393" y="747" width="1" height="18" fill="#c0c0c0"/>
<rect x="397" y="747" width="1" height="12" fill="#c0c0c0"/>
<rect x="401" y="747" width="1" height="9" fill="#c0c0c0"/>
<rect x="405" y="747" width="1" height="5" fill="#c0c0c0"/>
<rect x="409" y="747" width="1" height="1" fill="#c0c0c0"/>
<rect x="413" y="745" width="1" height="3" fill="#c0c0c0"/>
<rect x="417" y="745" width="1" height="2" fill="#c0c0c0"/>
<rect x="421" y="746" width="1" height="2" fill="#c0c0c0"/>
<rect x="425" y="747" width="1" height="1" fill="#c0c0c0"/>
<rect x="429" y="747" width="1" height="4" fill="#c0c0c0"/>
<rect x="433" y="747" width="1" height="9" fill="#c0c0c0"/>
<rect x="437" y="747" width="1" height="14" fill="#c0c0c0"/>
<rect x="441" y="747" width="1" height="18" fill="#c0c0c0"/>
<rect x="445" y="747" width="1" height="20" fill="#c0c0c0"/>
<rect x="449" y="747" width="1" height="22" fill="#c0c0c0"/>
<rect x="453" y="747" width="1" height="19" fill="#c0c0c0"/>
<rect x="457" y="747" width="1" height="16" fill="#c0c0c0"/>
<rect x="461" y="747" width="1" height="14" fill="#c0c0c0"/>
<rect x="465" y="747" width="1" height="9" fill="#c0c0c0"/>
<rect x="469" y="747" width="1" height="4" fill="#c0c0c0"/>
<rect x="473" y="746" width="1" height="1" fill="#c0c0c0"/>
<rect x="477" y="741" width="1" height="6" fill="#c0c0c0"/>
<rect x="481" y="737" width="1" height="10" fill="#c0c0c0"/>
<rect x="485" y="734" width="1" height="13" fill="#c0c0c0"/>
<rect x="489" y="735" width="1" height="12" fill="#c0c0c0"/>
<rect x="493" y="734" width="1" height="13" fill="#c0c0c0"/>
<rect x="497" y="730" width="1" height="17" fill="#c0c0c0"/>
<rect x="501" y="729" width="1" height="18" fill="#c0c0c0"/>
<rect x="505" y="732" width="1" height="15" fill="#c0c0c0"/>
<rect x="509" y="733" width="1" height="14" fill="#c0c0c0"/>
<rect x="513" y="735" width="1" height="12" fill="#c0c0c0"/>
<rect x="517" y="740" width="1" height="7" fill="#c0c0c0"/>
<rect x="521" y="742" width="1" height="6" fill="#c0c0c0"/>
<rect x="525" y="741" width="1" height="6" fill="#c0c0c0"/>
<rect x="529" y="739" width="1" height="8" fill="#c0c0c0"/>
<rect x="533" y="736" width="1" height="11" fill="#c0c0c0"/>
<rect x="537" y="734" width="1" height="14" fill="#c0c0c0"/>
<rect x="541" y="733" width="1" height="14" fill="#c0c0c0"/>
<rect x="545" y="732" width="1" height="15" fill="#c0c0c0"/>
<rect x="549" y="730" width="1" height="17" fill="#c0c0c0"/>
<rect x="553" y="729" width="1" height="18" fill="#c0c0c0"/>
<rect x="557" y="728" width="1" height="19" fill="#c0c0c0"/>
<rect x="561" y="728" width="1" height="19" fill="#c0c0c0"/>
<rect x="565" y="731" width="1" height="16" fill="#c0c0c0"/>
<rect x="569" y="735" width="1" height="12" fill="#c0c0c0"/>
<rect x="573" y="740" width="1" height="7" fill="#c0c0c0"/>
<rect x="577" y="747" width="1" height="1" fill="#c0c0c0"/>
<rect x="581" y="747" width="1" height="6" fill="#c0c0c0"/>
<rect x="585" y="747" width="1" height="10" fill="#c0c0c0"/>
<rect x="589" y="747" width="1" height="16" fill="#c0c0c0"/>
<rect x="593" y="747" width="1" height="20" fill="#c0c0c0"/>
<rect x="597" y="747" width="1" height="24" fill="#c0c0c0"/>
<rect x="601" y="747" width="1" height="31" fill="#c0c0c0"/>
<rect x="605" y="747" width="1" height="37" fill="#c0c0c0"/>
<rect x="609" y="747" width="1" height="42" fill="#c0c0c0"/>
<rect x="613" y="747" width="1" height="46" fill="#c0c0c0"/>
<rect x="617" y="747" width="1" height="50" fill="#c0c0c0"/>
<rect x="621" y="747" width="1" height="49" fill="#c0c0c0"/>
<rect x="625" y="747" width="1" height="48" fill="#c0c0c0"/>
<rect x="629" y="747" width="1" height="47" fill="#c0c0c0"/>
<rect x="633" y="747" width="1" height="49" fill="#c0c0c0"/>
<rect x="637" y="747" width="1" height="46" fill="#c0c0c0"/>
<rect x="641" y="747" width="1" height="48" fill="#c0c0c0"/>
<rect x="645" y="747" width="1" height="46" fill="#c0c0c0"/>
<rect x="649" y="747" width="1" height="43" fill="#c0c0c0"/>
<rect x="653" y="747" width="1" height="41" fill="#c0c0c0"/>
<rect x="657" y="747" width="1" height="40" fill="#c0c0c0"/>
<rect x="661" y="747" width="1" height="37" fill="#c0c0c0"/>
<rect x="665" y="747" width="1" height="34" fill="#c0c0c0"/>
<rect x="669" y="747" width="1" height="34" fill="#c0c0c0"/>
<rect x="673" y="747" width="1" height="34" fill="#c0c0c0"/>
<rect x="677" y="747" width="1" height="33" fill="#c0c0c0"/>
<rect x="681" y="747" width="1" height="30" fill="#c0c0c0"/>
<rect x="685" y="747" width="1" height="29" fill="#c0c0c0"/>
<rect x="689" y="747" width="1" height="29" fill="#c0c0c0"/>
<rect x="693" y="747" width="1" height="29" fill="#c0c0c0"/>
<rect x="697" y="747" width="1" height="30" fill="#c0c0c0"/>
<rect x="701" y="747" width="1" height="30" fill="#c0c0c0"/>
<rect x="705" y="747" width="1" height="30" fill="#c0c0c0"/>
<rect x="709" y="747" width="1" height="27" fill="#c0c0c0"/>
<rect x="713" y="747" width="1" height="22" fill="#c0c0c0"/>
<rect x="717" y="747" width="1" height="16" fill="#c0c0c0"/>
<rect x="721" y="747" width="1" height="8" fill="#c0c0c0"/>
<rect x="725" y="747" width="1" height="3" fill="#c0c0c0"/>
<rect x="729" y="744" width="1" height="4" fill="#c0c0c0"/>
<rect x="733" y="739" width="1" height="8" fill="#c0c0c0"/>
<rect x="737" y="736" width="1" height="11" fill="#c0c0c0"/>
<rect x="741" y="734" width="1" height="14" fill="#c0c0c0"/>
<rect x="745" y="731" width="1" height="17" fill="#c0c0c0"/>
<rect x="749" y="729" width="1" height="18" fill="#c0c0c0"/>
<rect x="753" y="729" width="1" height="18" fill="#c0c0c0"/>
<rect x="757" y="729" width="1" height="18" fill="#c0c0c0"/>
<rect x="761" y="731" width="1" height="16" fill="#c0c0c0"/>
<rect x="765" y="736" width="1" height="11" fill="#c0c0c0"/>
<rect x="769" y="742" width="1" height="5" fill="#c0c0c0"/>
<rect x="773" y="747" width="1" height="1" fill="#c0c0c0"/>
<rect x="777" y="747" width="1" height="3" fill="#c0c0c0"/>
<rect x="781" y="747" width="1" height="4" fill="#c0c0c0"/>
<rect x="785" y="747" width="1" height="8" fill="#c0c0c0"/>
<rect x="789" y="747" width="1" height="11" fill="#c0c0c0"/>
<rect x="793" y="747" width="1" height="12" fill="#c0c0c0"/>
<rect x="797" y="747" width="1" height="13" fill="#c0c0c0"/>
<rect x="801" y="747" width="1" height="15" fill="#c0c0c0"/>
<rect x="805" y="747" width="1" height="19" fill="#c0c0c0"/>
<rect x="809" y="747" width="1" height="23" fill="#c0c0c0"/>
<rect x="813" y="747" width="1" height="21" fill="#c0c0c0"/>
<rect x="817" y="747" width="1" height="19" fill="#c0c0c0"/>
<rect x="821" y="747" width="1" height="17" fill="#c0c0c0"/>
<rect x="825" y="747" width="1" height="16" fill="#c0c0c0"/>
<rect x="829" y="747" width="1" height="17" fill="#c0c0c0"/>
<rect x="833" y="747" width="1" height="18" fill="#c0c0c0"/>
<rect x="837" y="747" width="1" height="15" fill="#c0c0c0"/>
<rect x="841" y="747" width="1" height="10" fill="#c0c0c0"/>
<rect x="845" y="747" width="1" height="6" fill="#c0c0c0"/>
<rect x="849" y="747" width="1" height="5" fill="#c0c0c0"/>
<rect x="853" y="747" width="1" height="6" fill="#c0c0c0"/>
<rect x="857" y="747" width="1" height="6" fill="#c0c0c0"/>
<rect x="861" y="747" width="1" height="1" fill="#c0c0c0"/>
<rect x="865" y="743" width="1" height="4" fill="#c0c0c0"/>
<rect x="869" y="739" width="1" height="9" fill="#c0c0c0"/>
<rect x="873" y="734" width="1" height="13" fill="#c0c0c0"/>
<rect x="877" y="731" width="1" height="16" fill="#c0c0c0"/>
<rect x="881" y="730" width="1" height="17" fill="#c0c0c0"/>
<rect x="885" y="732" width="1" height="16" fill="#c0c0c0"/>
<rect x="889" y="732" width="1" height="15" fill="#c0c0c0"/>
<rect x="893" y="733" width="1" height="14" fill="#c0c0c0"/>
<rect x="897" y="733" width="1" height="14" fill="#c0c0c0"/>
<rect x="901" y="731" width="1" height="16" fill="#c0c0c0"/>
<rect x="905" y="729" width="1" height="18" fill="#c0c0c0"/>
<rect x="909" y="727" width="1" height="20" fill="#c0c0c0"/>
<rect x="913" y="724" width="1" height="24" fill="#c0c0c0"/>
<rect x="917" y="722" width="1" height="26" fill="#c0c0c0"/>
<rect x="921" y="721" width="1" height="27" fill="#c0c0c0"/>
<rect x="925" y="721" width="1" height="26" fill="#c0c0c0"/>
<rect x="929" y="721" width="1" height="26" fill="#c0c0c0"/>
<rect x="933" y="723" width="1" height="25" fill="#c0c0c0"/>
<rect x="937" y="726" width="1" height="21" fill="#c0c0c0"/>
<rect x="941" y="729" width="1" height="18" fill="#c0c0c0"/>
<rect x="945" y="732" width="1" height="15" fill="#c0c0c0"/>
<rect x="949" y="735" width="1" height="12" fill="#c0c0c0"/>
<rect x="953" y="738" width="1" height="9" fill="#c0c0c0"/>
<rect x="957" y="745" width="1" height="2" fill="#c0c0c0"/>
<rect x="961" y="747" width="1" height="1" fill="#c0c0c0"/>
<rect x="965" y="747" width="1" height="2" fill="#c0c0c0"/>
<rect x="969" y="747" width="1" height="3" fill="#c0c0c0"/>
<rect x="973" y="747" width="1" height="4" fill="#c0c0c0"/>
<rect x="977" y="747" width="1" height="5" fill="#c0c0c0"/>
<rect x="981" y="747" width="1" height="7" fill="#c0c0c0"/>
<rect x="985" y="747" width="1" height="10" fill="#c0c0c0"/>
<rect x="989" y="747" width="1" height="11" fill="#c0c0c0"/>
<rect x="993" y="747" width="1" height="13" fill="#c0c0c0"/>
<rect x="997" y="747" width="1" height="14" fill="#c0c0c0"/>
<rect x="1001" y="747" width="1" height="14" fill="#c0c0c0"/>
<rect x="1005" y="747" width="1" height="16" fill="#c0c0c0"/>
<rect x="1009" y="747" width="1" height="17" fill="#c0c0c0"/>
<rect x="1013" y="747" width="1" height="17" fill="#c0c0c0"/>
<rect x="1017" y="747" width="1" height="14" fill="#c0c0c0"/>
<rect x="1021" y="747" width="1" height="9" fill="#c0c0c0"/>
<rect x="1025" y="747" width="1" height="5" fill="#c0c0c0"/>
<rect x="1029" y="747" width="1" height="3" fill="#c0c0c0"/>
<rect x="1033" y="747" width="1" height="1" fill="#c0c0c0"/>
<rect x="1037" y="747" width="1" height="1" fill="#c0c0c0"/>
<rect x="1041" y="746" width="1" height="2" fill="#c0c0c0"/>
<rect x="1045" y="746" width="1" height="1" fill="#c0c0c0"/>
<rect x="1049" y="744" width="1" height="3" fill="#c0c0c0"/>
<rect x="1053" y="739" width="1" height="9" fill="#c0c0c0"/>
<rect x="1057" y="737" width="1" height="11" fill="#c0c0c0"/>
<rect x="1061" y="735" width="1" height="12" fill="#c0c0c0"/>
<rect x="1065" y="732" width="1" height="15" fill="#c0c0c0"/>
<rect x="1069" y="733" width="1" height="14" fill="#c0c0c0"/>
<rect x="1073" y="734" width="1" height="13" fill="#c0c0c0"/>
<rect x="1077" y="733" width="1" height="14" fill="#c0c0c0"/>
<rect x="1081" y="731" width="1" height="16" fill="#c0c0c0"/>
<rect x="1085" y="730" width="1" height="18" fill="#c0c0c0"/>
<rect x="1089" y="728" width="1" height="20" fill="#c0c0c0"/>
<rect x="1093" y="725" width="1" height="22" fill="#c0c0c0"/>
<rect x="1097" y="724" width="1" height="23" fill="#c0c0c0"/>
<rect x="1101" y="723" width="1" height="25" fill="#c0c0c0"/>
<rect x="1105" y="718" width="1" height="29" fill="#c0c0c0"/>
<rect x="1109" y="716" width="1" height="31" fill="#c0c0c0"/>
<rect x="1113" y="713" width="1" height="34" fill="#c0c0c0"/>
<rect x="1117" y="709" width="1" height="39" fill="#c0c0c0"/>
<rect x="1121" y="707" width="1" height="41" fill="#c0c0c0"/>
<rect x="1125" y="706" width="1" height="41" fill="#c0c0c0"/>
<rect x="1129" y="710" width="1" height="37" fill="#c0c0c0"/>
<rect x="1133" y="713" width="1" height="34" fill="#c0c0c0"/>
<rect x="1137" y="718" width="1" height="29" fill="#c0c0c0"/>
<rect x="1141" y="727" width="1" height="21" fill="#c0c0c0"/>
<rect x="1145" y="734" width="1" height="13" fill="#c0c0c0"/>
<rect x="1149" y="741" width="1" height="7" fill="#c0c0c0"/>
<rect x="1153" y="742" width="1" height="5" fill="#c0c0c0"/>
<rect x="1157" y="743" width="1" height="4" fill="#c0c0c0"/>
<rect x="1161" y="744" width="1" height="3" fill="#c0c0c0"/>
<rect x="1165" y="745" width="1" height="2" fill="#c0c0c0"/>
<rect x="1169" y="746" width="1" height="1" fill="#c0c0c0"/>
<rect x="1173" y="747" width="1" height="1" fill="#c0c0c0"/>
<rect x="1177" y="747" width="1" height="2" fill="#c0c0c0"/>
<rect x="1181" y="747" width="1" height="4" fill="#c0c0c0"/>
<rect x="1185" y="747" width="1" height="6" fill="#c0c0c0"/>
<rect x="1189" y="747" width="1" height="8" fill="#c0c0c0"/>
<rect x="1193" y="747" width="1" height="11" fill="#c0c0c0"/>
<rect x="1197" y="747" width="1" height="13" fill="#c0c0c0"/>
<rect x="1201" y="747" width="1" height="15" fill="#c0c0c0"/>
<rect x="1205" y="747" width="1" height="17" fill="#c0c0c0"/>
<rect x="1209" y="747" width="1" height="23" fill="#c0c0c0"/>
<rect x="1213" y="747" width="1" height="28" fill="#c0c0c0"/>
<rect x="1217" y="747" width="1" height="33" fill="#c0c0c0"/>
<rect x="1221" y="747" width="1" height="38" fill="#c0c0c0"/>
<rect x="1225" y="747" width="1" height="43" fill="#c0c0c0"/>
<rect x="1229" y="747" width="1" height="46" fill="#c0c0c0"/>
<rect x="1233" y="747" width="1" height="48" fill="#c0c0c0"/>
<rect x="1237" y="747" width="1" height="47" fill="#c0c0c0"/>
<rect x="1241" y="747" width="1" height="44" fill="#c0c0c0"/>
<rect x="1245" y="747" width="1" height="42" fill="#c0c0c0"/>
<rect x="1249" y="747" width="1" height="43" fill="#c0c0c0"/>
<rect x="1253" y="747" width="1" height="44" fill="#c0c0c0"/>
<rect x="1257" y="747" width="1" height="45" fill="#c0c0c0"/>
<rect x="1261" y="747" width="1" height="41" fill="#c0c0c0"/>
<rect x="1265" y="747" width="1" height="37" fill="#c0c0c0"/>
<rect x="1269" y="747" width="1" height="33" fill="#c0c0c0"/>
<rect x="1273" y="747" width="1" height="31" fill="#c0c0c0"/>
<rect x="1277" y="747" width="1" height="30" fill="#c0c0c0"/>
<rect x="1281" y="747" width="1" height="29" fill="#c0c0c0"/>
<rect x="1285" y="747" width="1" height="28" fill="#c0c0c0"/>
<rect x="1289" y="747" width="1" height="29" fill="#c0c0c0"/>
<rect x="1293" y="747" width="1" height="33" fill="#c0c0c0"/>
<rect x="1297" y="747" width="1" height="36" fill="#c0c0c0"/>
<rect x="1301" y="747" width="1" height="37" fill="#c0c0c0"/>
<rect x="1305" y="747" width="1" height="40" fill="#c0c0c0"/>
<polyline points="5.5,733.0 9.5,735.9 13.5,739.6 17.5,743.8 21.5,748.2 25.5,752.3 29.5,755.6 33.5,758.0 37.5,759.3 41.5,759.6 45.5,759.5 49.5,758.9 53.5,758.1 57.5,756.8 61.5,755.2 65.5,753.8 69.5,752.9 73.5,752.4 77.5,752.8 81.5,753.0 85.5,753.7 89.5,755.0 93.5,757.0 97.5,759.6 101.5,762.1 105.5,764.5 109.5,766.2 113.5,767.2 117.5,767.9 121.5,768.1 125.5,767.6 129.5,766.4 133.5,764.7 137.5,762.9 141.5,760.9 145.5,759.2 149.5,757.7 153.5,755.9 157.5,754.1 161.5,752.7 165.5,751.7 169.5,750.9 173.5,750.1 177.5,749.4 181.5,749.1 185.5,748.5 189.5,748.0 193.5,748.0 197.5,747.7 201.5,747.1 205.5,746.4 209.5,745.4 213.5,744.6 217.5,743.0 221.5,741.5 225.5,739.8 229.5,737.9 233.5,736.1 237.5,734.6 241.5,733.4 245.5,732.7 249.5,732.3 253.5,732.8 257.5,734.4 261.5,737.3 265.5,740.6 269.5,744.3 273.5,747.9 277.5,751.6 281.5,755.3 285.5,759.2 289.5,762.7 293.5,765.3 297.5,767.3 301.5,768.9 305.5,770.3 309.5,771.7 313.5,772.8 317.5,773.7 321.5,774.6 325.5,775.5 329.5,776.6 333.5,777.8 337.5,779.5 341.5,781.5 345.5,783.2 349.5,785.0 353.5,787.0 357.5,788.5 361.5,789.5 365.5,789.7 369.5,789.4 373.5,788.1 377.5,786.4 381.5,784.5 385.5,782.2 389.5,779.6 393.5,776.7 397.5,773.5 401.5,770.3 405.5,767.1 409.5,763.7 413.5,760.2 417.5,756.8 421.5,753.8 425.5,751.4 429.5,749.9 433.5,749.5 437.5,750.1 441.5,751.5 445.5,753.6 449.5,756.2 453.5,758.6 457.5,760.6 461.5,762.1 465.5,762.6 469.5,762.1 473.5,760.4 477.5,757.8 481.5,754.5 485.5,750.6 489.5,747.2 493.5,743.9 497.5,740.5 501.5,737.6 505.5,735.4 509.5,734.0 513.5,733.4 517.5,733.7 521.5,734.5 525.5,735.2 529.5,735.8 533.5,736.4 537.5,736.9 541.5,737.0 545.5,736.9 549.5,736.3 553.5,735.0 557.5,733.5 561.5,732.1 565.5,731.2 569.5,731.0 573.5,731.7 577.5,733.4 581.5,735.7 585.5,738.8 589.5,742.6 593.5,746.9 597.5,751.7 601.5,757.0 605.5,762.4 609.5,767.8 613.5,772.9 617.5,777.9 621.5,782.1 625.5,785.7 629.5,788.8 633.5,791.6 637.5,793.3 641.5,794.5 645.5,794.9 649.5,794.6 653.5,793.6 657.5,792.6 661.5,791.4 665.5,789.9 669.5,788.2 673.5,786.8 677.5,785.2 681.5,783.5 685.5,781.9 689.5,780.5 693.5,779.4 697.5,778.6 701.5,778.1 705.5,777.7 709.5,777.0 713.5,775.7 717.5,774.1 721.5,771.8 725.5,768.9 729.5,765.2 733.5,761.0 737.5,756.5 741.5,751.7 745.5,746.8 749.5,742.3 753.5,738.5 757.5,735.6 761.5,733.5 765.5,732.6 769.5,732.9 773.5,734.1 777.5,735.9 781.5,738.2 785.5,741.2 789.5,744.5 793.5,747.8 797.5,751.1 801.5,754.1 805.5,756.8 809.5,759.4 813.5,761.4 817.5,763.0 821.5,763.9 825.5,764.6 829.5,765.1 833.5,765.6 837.5,765.6 841.5,764.6 845.5,762.8 849.5,761.0 853.5,759.5 857.5,758.3 861.5,756.6 865.5,754.2 869.5,751.3 873.5,748.2 877.5,745.3 881.5,742.7 885.5,740.3 889.5,738.0 893.5,735.8 897.5,734.1 901.5,732.8 905.5,731.7 909.5,731.0 913.5,730.1 917.5,729.2 921.5,728.0 925.5,726.7 929.5,725.4 933.5,724.3 937.5,723.7 941.5,723.6 945.5,724.1 949.5,725.4 953.5,727.2 957.5,729.9 961.5,732.8 965.5,735.9 969.5,739.0 973.5,741.7 977.5,744.4 981.5,746.9 985.5,749.3 989.5,751.6 993.5,753.4 997.5,754.9 1001.5,756.3 1005.5,757.7 1009.5,759.1 1013.5,760.5 1017.5,761.2 1021.5,761.2 1025.5,760.5 1029.5,759.3 1033.5,758.0 1037.5,756.3 1041.5,754.4 1045.5,752.4 1049.5,750.1 1053.5,747.6 1057.5,745.4 1061.5,743.5 1065.5,741.5 1069.5,739.8 1073.5,738.4 1077.5,737.0 1081.5,735.3 1085.5,733.7 1089.5,732.5 1093.5,731.3 1097.5,730.1 1101.5,729.0 1105.5,727.3 1109.5,725.3 1113.5,723.1 1117.5,720.6 1121.5,718.0 1125.5,715.7 1129.5,714.0 1133.5,712.8 1137.5,712.3 1141.5,713.2 1145.5,715.2 1149.5,718.3 1153.5,722.0 1157.5,726.0 1161.5,730.2 1165.5,734.1 1169.5,737.7 1173.5,740.9 1177.5,743.4 1181.5,745.3 1185.5,746.7 1189.5,748.1 1193.5,749.8 1197.5,751.6 1201.5,753.5 1205.5,755.6 1209.5,758.2 1213.5,761.1 1217.5,764.4 1221.5,767.9 1225.5,771.8 1229.5,775.7 1233.5,779.6 1237.5,783.1 1241.5,786.0 1245.5,788.1 1249.5,789.7 1253.5,791.0 1257.5,791.7 1261.5,791.5 1265.5,790.5 1269.5,788.9 1273.5,787.2 1277.5,785.7 1281.5,784.3 1285.5,782.6 1289.5,781.0 1293.5,779.7 1297.5,779.1 1301.5,779.1 1305.5,779.8" fill="none" stroke="#ff0000" stroke-width="1" stroke-dasharray="3 3" shape-rendering="crispEdges"/>
</g>
<text x="8.40" y="713.00" font-size="9.7px" fill="#000" textLength="154.70" lengthAdjust="spacingAndGlyphs" stroke="#000" stroke-width="0.18">MACD(12,26,9) -0.004449 -0.003684</text>
<rect x="1642" y="702" width="2" height="1" fill="#000"/>
<rect x="1642" y="747" width="2" height="1" fill="#000"/>
<rect x="1642" y="802" width="2" height="1" fill="#000"/>
<text x="1644.90" y="711.00" font-size="9.7px" fill="#000" textLength="38.20" lengthAdjust="spacingAndGlyphs" stroke="#000" stroke-width="0.18">0.005076</text>
<text x="1644.40" y="751.00" font-size="9.7px" fill="#000" textLength="19.20" lengthAdjust="spacingAndGlyphs" stroke="#000" stroke-width="0.18">0.00</text>
<text x="1645.00" y="800.00" font-size="9.7px" fill="#000" textLength="42.00" lengthAdjust="spacingAndGlyphs" stroke="#000" stroke-width="0.18">-0.006148</text>
<rect x="5" y="804" width="1" height="3" fill="#000"/>
<text x="3.90" y="816.00" font-size="9.7px" fill="#000" textLength="47.20" lengthAdjust="spacingAndGlyphs" stroke="#000" stroke-width="0.18">9 Feb 2019</text>
<rect x="69" y="804" width="1" height="3" fill="#000"/>
<text x="67.90" y="816.00" font-size="9.7px" fill="#000" textLength="52.70" lengthAdjust="spacingAndGlyphs" stroke="#000" stroke-width="0.18">28 Feb 2019</text>
<rect x="133" y="804" width="1" height="3" fill="#000"/>
<text x="131.50" y="816.00" font-size="9.7px" fill="#000" textLength="50.51" lengthAdjust="spacingAndGlyphs" stroke="#000" stroke-width="0.18">19 Mar 2019</text>
<rect x="197" y="804" width="1" height="3" fill="#000"/>
<text x="195.50" y="816.00" font-size="9.7px" fill="#000" textLength="43.52" lengthAdjust="spacingAndGlyphs" stroke="#000" stroke-width="0.18">6 Apr 2019</text>
<rect x="261" y="804" width="1" height="3" fill="#000"/>
<text x="259.50" y="816.00" font-size="9.7px" fill="#000" textLength="48.52" lengthAdjust="spacingAndGlyphs" stroke="#000" stroke-width="0.18">25 Apr 2019</text>
<rect x="325" y="804" width="1" height="3" fill="#000"/>
<text x="323.50" y="816.00" font-size="9.7px" fill="#000" textLength="52.01" lengthAdjust="spacingAndGlyphs" stroke="#000" stroke-width="0.18">14 May 2019</text>
<rect x="389" y="804" width="1" height="3" fill="#000"/>
<text x="387.50" y="816.00" font-size="9.7px" fill="#000" textLength="44.52" lengthAdjust="spacingAndGlyphs" stroke="#000" stroke-width="0.18">1 Jun 2019</text>
<rect x="453" y="804" width="1" height="3" fill="#000"/>
<text x="451.50" y="816.00" font-size="9.7px" fill="#000" textLength="49.52" lengthAdjust="spacingAndGlyphs" stroke="#000" stroke-width="0.18">20 Jun 2019</text>
<rect x="517" y="804" width="1" height="3" fill="#000"/>
<text x="515.50" y="816.00" font-size="9.7px" fill="#000" textLength="41.52" lengthAdjust="spacingAndGlyphs" stroke="#000" stroke-width="0.18">9 Jul 2019</text>
<rect x="581" y="804" width="1" height="3" fill="#000"/>
<text x="579.50" y="816.00" font-size="9.7px" fill="#000" textLength="46.52" lengthAdjust="spacingAndGlyphs" stroke="#000" stroke-width="0.18">27 Jul 2019</text>
<rect x="645" y="804" width="1" height="3" fill="#000"/>
<text x="643.50" y="816.00" font-size="9.7px" fill="#000" textLength="50.53" lengthAdjust="spacingAndGlyphs" stroke="#000" stroke-width="0.18">15 Aug 2019</text>
<rect x="709" y="804" width="1" height="3" fill="#000"/>
<text x="707.50" y="816.00" font-size="9.7px" fill="#000" textLength="46.02" lengthAdjust="spacingAndGlyphs" stroke="#000" stroke-width="0.18">3 Sep 2019</text>
<rect x="773" y="804" width="1" height="3" fill="#000"/>
<text x="771.50" y="816.00" font-size="9.7px" fill="#000" textLength="51.03" lengthAdjust="spacingAndGlyphs" stroke="#000" stroke-width="0.18">21 Sep 2019</text>
<rect x="837" y="804" width="1" height="3" fill="#000"/>
<text x="835.50" y="816.00" font-size="9.7px" fill="#000" textLength="49.01" lengthAdjust="spacingAndGlyphs" stroke="#000" stroke-width="0.18">10 Oct 2019</text>
<rect x="901" y="804" width="1" height="3" fill="#000"/>
<text x="899.50" y="816.00" font-size="9.7px" fill="#000" textLength="49.01" lengthAdjust="spacingAndGlyphs" stroke="#000" stroke-width="0.18">29 Oct 2019</text>
<rect x="965" y="804" width="1" height="3" fill="#000"/>
<text x="963.50" y="816.00" font-size="9.7px" fill="#000" textLength="51.02" lengthAdjust="spacingAndGlyphs" stroke="#000" stroke-width="0.18">16 Nov 2019</text>
<rect x="1029" y="804" width="1" height="3" fill="#000"/>
<text x="1027.50" y="816.00" font-size="9.7px" fill="#000" textLength="46.01" lengthAdjust="spacingAndGlyphs" stroke="#000" stroke-width="0.18">5 Dec 2019</text>
<rect x="1093" y="804" width="1" height="3" fill="#000"/>
<text x="1091.50" y="816.00" font-size="9.7px" fill="#000" textLength="51.02" lengthAdjust="spacingAndGlyphs" stroke="#000" stroke-width="0.18">24 Dec 2019</text>
<rect x="1157" y="804" width="1" height="3" fill="#000"/>
<text x="1155.40" y="816.00" font-size="9.7px" fill="#000" textLength="50.70" lengthAdjust="spacingAndGlyphs" stroke="#000" stroke-width="0.18">11 Jan 2020</text>
<rect x="1221" y="804" width="1" height="3" fill="#000"/>
<text x="1219.40" y="816.00" font-size="9.7px" fill="#000" textLength="50.20" lengthAdjust="spacingAndGlyphs" stroke="#000" stroke-width="0.18">30 Jan 2020</text>
<rect x="1285" y="804" width="1" height="3" fill="#000"/>
<text x="1283.90" y="816.00" font-size="9.7px" fill="#000" textLength="51.70" lengthAdjust="spacingAndGlyphs" stroke="#000" stroke-width="0.18">18 Feb 2020</text>
<rect x="0" y="824" width="1685" height="1" fill="#e3e3e3"/>
<rect x="0" y="825" width="1685" height="1" fill="#ffffff"/>
<rect x="0" y="826" width="1685" height="1" fill="#000000"/>
<rect x="0" y="827" width="1685" height="19" fill="#f0f0f0"/>
<rect x="0" y="846" width="1685" height="1" fill="#ffffff"/>
<rect x="0" y="847" width="1685" height="3" fill="#f0f0f0"/>
<rect x="0" y="827" width="1" height="18" fill="#a0a0a0"/><rect x="1" y="827" width="1" height="18" fill="#696969"/><rect x="2" y="828" width="1" height="16" fill="#ffffff"/>
<rect x="0" y="827" width="1685" height="1" fill="#fafafa"/>
<rect x="211" y="826" width="102" height="18" fill="#ffffff"/>
<rect x="210" y="826" width="1" height="19" fill="#000"/><rect x="313" y="826" width="1" height="19" fill="#000"/><rect x="210" y="844" width="104" height="1" fill="#000"/>
<rect x="209" y="827" width="1" height="17" fill="#fafafa"/><rect x="314" y="845" width="1" height="1" fill="#aaa"/>
<text x="17.90" y="841.00" font-size="12.5px" fill="#6d6d6d" textLength="79.70" lengthAdjust="spacingAndGlyphs" stroke="#6d6d6d" stroke-width="0.18">EURUSD,Daily</text>
<text x="119.40" y="841.00" font-size="12.5px" fill="#6d6d6d" textLength="79.20" lengthAdjust="spacingAndGlyphs" stroke="#6d6d6d" stroke-width="0.18">USDCHF,Daily</text>
<text x="220.90" y="841.00" font-size="12.5px" fill="#000" textLength="81.70" lengthAdjust="spacingAndGlyphs" stroke="#000" stroke-width="0.18">AUDUSD,Daily</text>
<text x="324.90" y="841.00" font-size="12.5px" fill="#6d6d6d" textLength="81.20" lengthAdjust="spacingAndGlyphs" stroke="#6d6d6d" stroke-width="0.18">USDCAD,Daily</text>
<text x="427.40" y="841.00" font-size="12.5px" fill="#6d6d6d" textLength="83.20" lengthAdjust="spacingAndGlyphs" stroke="#6d6d6d" stroke-width="0.18">USDCNH,Daily</text>
<text x="533.40" y="841.00" font-size="12.5px" fill="#6d6d6d" textLength="79.70" lengthAdjust="spacingAndGlyphs" stroke="#6d6d6d" stroke-width="0.18">EURUSD,Daily</text>
<text x="636.90" y="841.00" font-size="12.5px" fill="#6d6d6d" textLength="80.70" lengthAdjust="spacingAndGlyphs" stroke="#6d6d6d" stroke-width="0.18">GBPUSD,Daily</text>
<text x="739.90" y="841.00" font-size="12.5px" fill="#6d6d6d" textLength="70.70" lengthAdjust="spacingAndGlyphs" stroke="#6d6d6d" stroke-width="0.18">XAUUSD,H4</text>
<rect x="110" y="829" width="1" height="14" fill="#6d6d6d"/>
<rect x="418" y="829" width="1" height="14" fill="#6d6d6d"/>
<rect x="522" y="829" width="1" height="14" fill="#6d6d6d"/>
<rect x="626" y="829" width="1" height="14" fill="#6d6d6d"/>
<rect x="730" y="829" width="1" height="14" fill="#6d6d6d"/>
<rect x="822" y="829" width="1" height="14" fill="#6d6d6d"/>
<path d="M1657 835 L1660 832 L1660 838 Z" fill="#888" shape-rendering="auto"/>
<path d="M1679 835 L1676 832 L1676 838 Z" fill="#888" shape-rendering="auto"/>
</svg></body></html>
